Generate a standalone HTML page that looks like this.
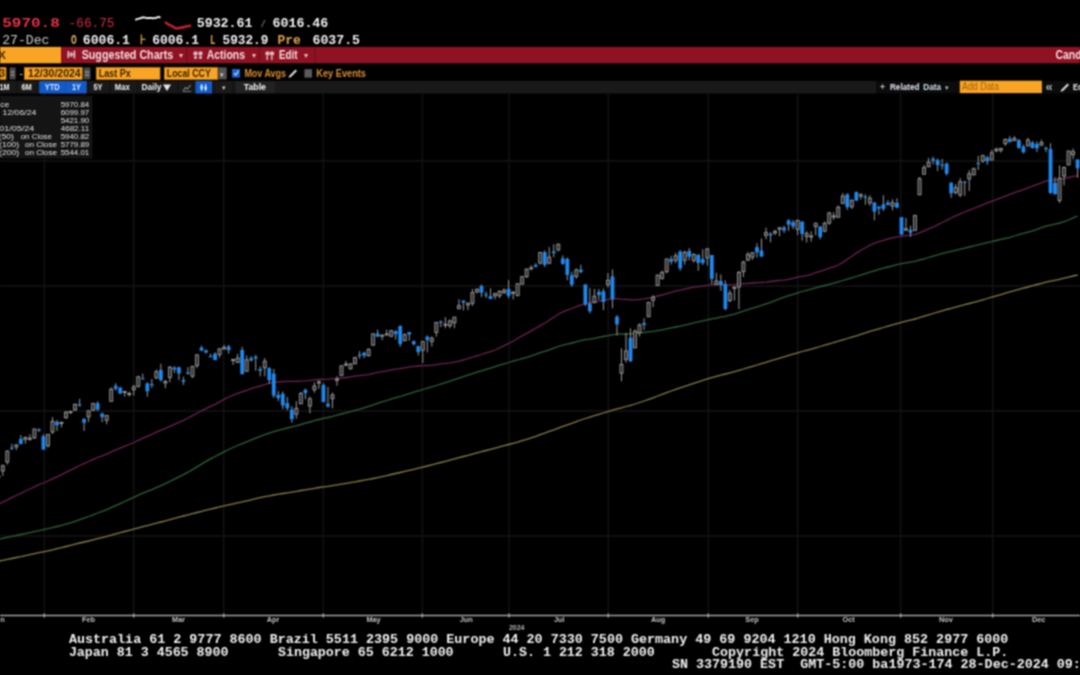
<!DOCTYPE html>
<html><head><meta charset="utf-8"><title>SPX Index - Candle Chart</title>
<style>
html,body{margin:0;padding:0;background:#000;width:1080px;height:675px;overflow:hidden}
svg{display:block} text{white-space:pre}
</style></head>
<body>
<svg width="1080" height="675" viewBox="0 0 1080 675" shape-rendering="auto">
<defs><filter id="soft" x="-2%" y="-2%" width="104%" height="104%" color-interpolation-filters="sRGB"><feConvolveMatrix order="3" kernelMatrix="0.2500 0.5000 0.2500 0.5000 1.0000 0.5000 0.2500 0.5000 0.2500" divisor="4.0000" edgeMode="none" preserveAlpha="false"/></filter></defs>
<rect width="1080" height="675" fill="#000"/>
<g filter="url(#soft)">
<g id="chart">
<line x1="44.30" y1="93.50" x2="44.30" y2="614.50" stroke="#151515" stroke-width="1.3" />
<line x1="133.70" y1="93.50" x2="133.70" y2="614.50" stroke="#151515" stroke-width="1.3" />
<line x1="223.70" y1="93.50" x2="223.70" y2="614.50" stroke="#151515" stroke-width="1.3" />
<line x1="323.30" y1="93.50" x2="323.30" y2="614.50" stroke="#151515" stroke-width="1.3" />
<line x1="422.30" y1="93.50" x2="422.30" y2="614.50" stroke="#151515" stroke-width="1.3" />
<line x1="509.00" y1="93.50" x2="509.00" y2="614.50" stroke="#151515" stroke-width="1.3" />
<line x1="608.30" y1="93.50" x2="608.30" y2="614.50" stroke="#151515" stroke-width="1.3" />
<line x1="708.30" y1="93.50" x2="708.30" y2="614.50" stroke="#151515" stroke-width="1.3" />
<line x1="797.70" y1="93.50" x2="797.70" y2="614.50" stroke="#151515" stroke-width="1.3" />
<line x1="900.70" y1="93.50" x2="900.70" y2="614.50" stroke="#151515" stroke-width="1.3" />
<line x1="992.70" y1="93.50" x2="992.70" y2="614.50" stroke="#151515" stroke-width="1.3" />
<line x1="0.00" y1="161.00" x2="1080.00" y2="161.00" stroke="#151515" stroke-width="1.3" />
<line x1="0.00" y1="286.00" x2="1080.00" y2="286.00" stroke="#151515" stroke-width="1.3" />
<line x1="0.00" y1="411.00" x2="1080.00" y2="411.00" stroke="#151515" stroke-width="1.3" />
<line x1="0.00" y1="536.00" x2="1080.00" y2="536.00" stroke="#151515" stroke-width="1.3" />
<line x1="0.00" y1="615.50" x2="1080.00" y2="615.50" stroke="#a0a0a0" stroke-width="1.3" />
<line x1="44.30" y1="613.50" x2="44.30" y2="617.50" stroke="#a8a8a8" stroke-width="1.4" />
<line x1="133.70" y1="613.50" x2="133.70" y2="617.50" stroke="#a8a8a8" stroke-width="1.4" />
<line x1="223.70" y1="613.50" x2="223.70" y2="617.50" stroke="#a8a8a8" stroke-width="1.4" />
<line x1="323.30" y1="613.50" x2="323.30" y2="617.50" stroke="#a8a8a8" stroke-width="1.4" />
<line x1="422.30" y1="613.50" x2="422.30" y2="617.50" stroke="#a8a8a8" stroke-width="1.4" />
<line x1="509.00" y1="613.50" x2="509.00" y2="617.50" stroke="#a8a8a8" stroke-width="1.4" />
<line x1="608.30" y1="613.50" x2="608.30" y2="617.50" stroke="#a8a8a8" stroke-width="1.4" />
<line x1="708.30" y1="613.50" x2="708.30" y2="617.50" stroke="#a8a8a8" stroke-width="1.4" />
<line x1="797.70" y1="613.50" x2="797.70" y2="617.50" stroke="#a8a8a8" stroke-width="1.4" />
<line x1="900.70" y1="613.50" x2="900.70" y2="617.50" stroke="#a8a8a8" stroke-width="1.4" />
<line x1="992.70" y1="613.50" x2="992.70" y2="617.50" stroke="#a8a8a8" stroke-width="1.4" />
<text x="88.60" y="622.20" font-family='"Liberation Sans", sans-serif' font-size="7.3" font-weight="bold" fill="#c4c4c4" text-anchor="middle" >Feb</text>
<text x="178.60" y="622.20" font-family='"Liberation Sans", sans-serif' font-size="7.3" font-weight="bold" fill="#c4c4c4" text-anchor="middle" >Mar</text>
<text x="273.00" y="622.20" font-family='"Liberation Sans", sans-serif' font-size="7.3" font-weight="bold" fill="#c4c4c4" text-anchor="middle" >Apr</text>
<text x="373.60" y="622.20" font-family='"Liberation Sans", sans-serif' font-size="7.3" font-weight="bold" fill="#c4c4c4" text-anchor="middle" >May</text>
<text x="466.30" y="622.20" font-family='"Liberation Sans", sans-serif' font-size="7.3" font-weight="bold" fill="#c4c4c4" text-anchor="middle" >Jun</text>
<text x="559.30" y="622.20" font-family='"Liberation Sans", sans-serif' font-size="7.3" font-weight="bold" fill="#c4c4c4" text-anchor="middle" >Jul</text>
<text x="658.00" y="622.20" font-family='"Liberation Sans", sans-serif' font-size="7.3" font-weight="bold" fill="#c4c4c4" text-anchor="middle" >Aug</text>
<text x="752.00" y="622.20" font-family='"Liberation Sans", sans-serif' font-size="7.3" font-weight="bold" fill="#c4c4c4" text-anchor="middle" >Sep</text>
<text x="848.60" y="622.20" font-family='"Liberation Sans", sans-serif' font-size="7.3" font-weight="bold" fill="#c4c4c4" text-anchor="middle" >Oct</text>
<text x="946.00" y="622.20" font-family='"Liberation Sans", sans-serif' font-size="7.3" font-weight="bold" fill="#c4c4c4" text-anchor="middle" >Nov</text>
<text x="1038.60" y="622.20" font-family='"Liberation Sans", sans-serif' font-size="7.3" font-weight="bold" fill="#c4c4c4" text-anchor="middle" >Dec</text>
<text x="0.30" y="622.20" font-family='"Liberation Sans", sans-serif' font-size="7.3" font-weight="bold" fill="#c4c4c4" >n</text>
<text x="516.70" y="630.30" font-family='"Liberation Sans", sans-serif' font-size="7" font-weight="bold" fill="#b4b4b4" text-anchor="middle" >2024</text>
<polyline points="-1.7,561.1 2.8,560.3 7.3,559.4 11.8,558.5 16.3,557.5 20.9,556.6 25.4,555.6 29.9,554.7 34.4,553.7 38.9,552.7 43.4,551.8 48.0,550.8 52.5,549.8 57.0,548.7 61.5,547.7 66.0,546.5 70.5,545.4 75.1,544.2 79.6,543.0 84.1,542.0 88.6,541.0 93.1,539.8 97.6,538.7 102.2,537.6 106.7,536.4 111.2,535.2 115.7,533.9 120.2,532.7 124.7,531.5 129.2,530.3 133.8,529.1 138.3,527.9 142.8,526.7 147.3,525.6 151.8,524.4 156.3,523.2 160.9,522.0 165.4,520.9 169.9,519.6 174.4,518.4 178.9,517.2 183.4,516.0 188.0,514.8 192.5,513.6 197.0,512.5 201.5,511.3 206.0,510.2 210.5,509.1 215.1,508.0 219.6,506.9 224.1,505.8 228.6,504.8 233.1,503.8 237.6,502.8 242.1,501.9 246.7,500.8 251.2,499.8 255.7,498.7 260.2,497.7 264.7,496.7 269.2,495.8 273.8,495.0 278.3,494.2 282.8,493.5 287.3,492.8 291.8,492.1 296.3,491.4 300.9,490.5 305.4,489.8 309.9,489.1 314.4,488.3 318.9,487.5 323.4,486.8 327.9,486.3 332.5,485.6 337.0,484.9 341.5,484.1 346.0,483.4 350.5,482.6 355.0,481.8 359.6,481.0 364.1,480.2 368.6,479.4 373.1,478.5 377.6,477.6 382.1,476.6 386.7,475.6 391.2,474.5 395.7,473.5 400.2,472.5 404.7,471.4 409.2,470.3 413.8,469.3 418.3,468.2 422.8,467.1 427.3,466.0 431.8,464.9 436.3,463.7 440.8,462.5 445.4,461.3 449.9,460.1 454.4,458.9 458.9,457.7 463.4,456.5 467.9,455.3 472.5,454.1 477.0,452.9 481.5,451.7 486.0,450.5 490.5,449.3 495.0,448.2 499.6,446.9 504.1,445.7 508.6,444.5 513.1,443.3 517.6,442.1 522.1,440.7 526.7,439.3 531.2,437.8 535.7,436.3 540.2,434.6 544.7,433.1 549.2,431.4 553.8,429.8 558.3,428.1 562.8,426.4 567.3,424.9 571.8,423.3 576.3,421.6 580.8,420.0 585.4,418.5 589.9,417.1 594.4,415.7 598.9,414.4 603.4,413.0 607.9,411.6 612.5,410.2 617.0,408.9 621.5,407.8 626.0,406.5 630.5,405.3 635.0,404.0 639.6,402.5 644.1,401.0 648.6,399.4 653.1,397.8 657.6,396.0 662.1,394.3 666.7,392.6 671.2,391.0 675.7,389.4 680.2,387.8 684.7,386.3 689.2,384.8 693.7,383.3 698.3,381.8 702.8,380.4 707.3,378.9 711.8,377.7 716.3,376.4 720.8,375.1 725.4,374.0 729.9,372.8 734.4,371.6 738.9,370.3 743.4,369.0 747.9,367.7 752.5,366.3 757.0,365.0 761.5,363.7 766.0,362.3 770.5,360.9 775.0,359.5 779.6,358.2 784.1,356.8 788.6,355.4 793.1,354.1 797.6,352.8 802.1,351.5 806.6,350.3 811.2,349.1 815.7,347.8 820.2,346.5 824.7,345.2 829.2,343.9 833.7,342.5 838.3,341.2 842.8,339.8 847.3,338.5 851.8,337.1 856.3,335.8 860.8,334.3 865.4,332.9 869.9,331.4 874.4,330.1 878.9,328.8 883.4,327.5 887.9,326.2 892.5,324.9 897.0,323.6 901.5,322.4 906.0,321.2 910.5,320.1 915.0,319.0 919.5,317.6 924.1,316.2 928.6,314.9 933.1,313.5 937.6,312.2 942.1,310.8 946.6,309.5 951.2,308.3 955.7,307.1 960.2,305.9 964.7,304.7 969.2,303.5 973.7,302.3 978.3,301.1 982.8,299.8 987.3,298.5 991.8,297.2 996.3,295.9 1000.8,294.6 1005.4,293.2 1009.9,291.9 1014.4,290.6 1018.9,289.4 1023.4,288.2 1027.9,287.0 1032.4,285.7 1037.0,284.5 1041.5,283.4 1046.0,282.2 1050.5,281.2 1055.0,280.3 1059.5,279.3 1064.1,278.2 1068.6,277.1 1073.1,276.0 1077.6,275.0" fill="none" stroke="#837c46" stroke-width="1.3"/>
<polyline points="-1.7,539.2 2.8,538.3 7.3,537.3 11.8,536.4 16.3,535.5 20.9,534.5 25.4,533.6 29.9,532.6 34.4,531.6 38.9,530.6 43.4,529.7 48.0,528.7 52.5,527.6 57.0,526.5 61.5,525.4 66.0,524.2 70.5,522.9 75.1,521.3 79.6,519.7 84.1,518.2 88.6,516.5 93.1,514.8 97.6,513.0 102.2,511.4 106.7,509.6 111.2,507.7 115.7,505.7 120.2,503.6 124.7,501.5 129.2,499.4 133.8,497.3 138.3,495.2 142.8,493.2 147.3,491.4 151.8,489.6 156.3,487.6 160.9,485.7 165.4,483.6 169.9,481.4 174.4,479.1 178.9,476.8 183.4,474.6 188.0,472.2 192.5,469.6 197.0,466.9 201.5,464.1 206.0,461.4 210.5,458.9 215.1,456.5 219.6,454.1 224.1,451.8 228.6,449.5 233.1,447.5 237.6,445.5 242.1,443.7 246.7,441.8 251.2,439.9 255.7,438.1 260.2,436.4 264.7,434.7 269.2,433.1 273.8,431.7 278.3,430.4 282.8,429.2 287.3,428.0 291.8,426.9 296.3,425.8 300.9,424.5 305.4,423.2 309.9,422.0 314.4,420.7 318.9,419.5 323.4,418.4 327.9,417.5 332.5,416.4 337.0,415.2 341.5,414.0 346.0,412.8 350.5,411.6 355.0,410.3 359.6,409.1 364.1,407.8 368.6,406.4 373.1,404.9 377.6,403.4 382.1,401.9 386.7,400.5 391.2,399.1 395.7,397.7 400.2,396.5 404.7,395.1 409.2,393.6 413.8,392.1 418.3,390.8 422.8,389.5 427.3,388.2 431.8,386.9 436.3,385.5 440.8,384.1 445.4,382.6 449.9,381.1 454.4,379.6 458.9,378.1 463.4,376.7 467.9,375.2 472.5,373.7 477.0,372.2 481.5,370.8 486.0,369.4 490.5,368.1 495.0,366.6 499.6,365.2 504.1,363.8 508.6,362.5 513.1,361.2 517.6,360.0 522.1,358.6 526.7,357.3 531.2,355.9 535.7,354.3 540.2,352.7 544.7,351.4 549.2,349.8 553.8,348.2 558.3,346.5 562.8,345.2 567.3,344.1 571.8,343.0 576.3,341.8 580.8,340.6 585.4,339.7 589.9,339.1 594.4,338.3 598.9,337.3 603.4,336.5 607.9,335.6 612.5,334.8 617.0,334.2 621.5,334.2 626.0,334.0 630.5,333.8 635.0,333.3 639.6,332.9 644.1,332.4 648.6,331.9 653.1,331.4 657.6,330.6 662.1,329.8 666.7,328.8 671.2,327.9 675.7,327.0 680.2,326.1 684.7,325.1 689.2,324.1 693.7,322.9 698.3,321.9 702.8,320.9 707.3,319.8 711.8,318.9 716.3,318.1 720.8,317.2 725.4,316.3 729.9,315.2 734.4,314.1 738.9,312.7 743.4,311.1 747.9,309.6 752.5,308.2 757.0,306.8 761.5,305.3 766.0,303.8 770.5,302.3 775.0,300.6 779.6,298.9 784.1,297.2 788.6,295.7 793.1,294.3 797.6,292.8 802.1,291.5 806.6,290.3 811.2,289.1 815.7,287.8 820.2,286.7 824.7,285.5 829.2,284.3 833.7,283.1 838.3,281.8 842.8,280.5 847.3,279.2 851.8,277.8 856.3,276.5 860.8,275.1 865.4,273.6 869.9,272.1 874.4,270.8 878.9,269.4 883.4,268.1 887.9,267.0 892.5,265.8 897.0,264.6 901.5,263.7 906.0,262.9 910.5,262.1 915.0,261.3 919.5,260.0 924.1,258.8 928.6,257.5 933.1,256.2 937.6,254.9 942.1,253.5 946.6,252.3 951.2,251.3 955.7,250.3 960.2,249.2 964.7,248.1 969.2,247.0 973.7,245.9 978.3,244.8 982.8,243.7 987.3,242.7 991.8,241.7 996.3,240.5 1000.8,239.4 1005.4,238.3 1009.9,237.3 1014.4,236.0 1018.9,234.7 1023.4,233.4 1027.9,232.1 1032.4,230.9 1037.0,229.3 1041.5,227.6 1046.0,226.2 1050.5,225.1 1055.0,224.1 1059.5,223.0 1064.1,221.7 1068.6,220.0 1073.1,217.9 1077.6,216.0" fill="none" stroke="#2c6238" stroke-width="1.3"/>
<polyline points="-1.7,504.2 2.8,502.1 7.3,499.9 11.8,497.7 16.3,495.5 20.9,493.3 25.4,491.0 29.9,489.0 34.4,486.8 38.9,484.7 43.4,483.0 48.0,481.0 52.5,478.8 57.0,476.8 61.5,474.7 66.0,472.4 70.5,470.2 75.1,467.8 79.6,465.5 84.1,463.6 88.6,461.5 93.1,459.4 97.6,457.5 102.2,455.8 106.7,454.1 111.2,451.9 115.7,449.9 120.2,448.1 124.7,446.2 129.2,444.5 133.8,442.5 138.3,440.4 142.8,438.2 147.3,436.3 151.8,434.3 156.3,432.1 160.9,430.2 165.4,428.4 169.9,426.4 174.4,424.4 178.9,422.3 183.4,420.3 188.0,418.0 192.5,415.6 197.0,413.3 201.5,410.8 206.0,408.6 210.5,406.4 215.1,404.3 219.6,401.9 224.1,399.3 228.6,397.0 233.1,395.2 237.6,393.4 242.1,391.9 246.7,390.3 251.2,388.7 255.7,387.1 260.2,386.0 264.7,384.6 269.2,383.2 273.8,382.4 278.3,382.0 282.8,381.6 287.3,381.3 291.8,381.4 296.3,381.4 300.9,381.1 305.4,380.9 309.9,380.4 314.4,379.9 318.9,379.5 323.4,379.3 327.9,379.1 332.5,378.7 337.0,378.5 341.5,378.0 346.0,377.5 350.5,376.9 355.0,376.2 359.6,375.6 364.1,375.1 368.6,374.6 373.1,373.4 377.6,372.4 382.1,371.7 386.7,370.8 391.2,369.8 395.7,369.1 400.2,368.6 404.7,367.8 409.2,366.9 413.8,366.3 418.3,366.0 422.8,365.7 427.3,365.5 431.8,365.3 436.3,364.6 440.8,363.8 445.4,363.3 449.9,362.8 454.4,362.1 458.9,361.1 463.4,360.0 467.9,358.5 472.5,357.2 477.0,355.8 481.5,354.5 486.0,352.9 490.5,351.7 495.0,350.0 499.6,347.9 504.1,345.7 508.6,343.5 513.1,341.2 517.6,338.5 522.1,335.9 526.7,333.4 531.2,330.9 535.7,328.2 540.2,325.6 544.7,323.2 549.2,320.3 553.8,317.3 558.3,314.2 562.8,311.9 567.3,310.1 571.8,308.5 576.3,306.7 580.8,304.9 585.4,303.9 589.9,303.0 594.4,302.0 598.9,301.2 603.4,300.5 607.9,299.4 612.5,298.7 617.0,298.6 621.5,299.2 626.0,299.3 630.5,299.9 635.0,299.8 639.6,299.4 644.1,298.9 648.6,298.1 653.1,297.2 657.6,296.0 662.1,295.0 666.7,293.7 671.2,292.4 675.7,291.1 680.2,290.2 684.7,289.1 689.2,288.2 693.7,287.2 698.3,286.6 702.8,286.1 707.3,285.2 711.8,284.9 716.3,284.5 720.8,284.3 725.4,284.7 729.9,284.8 734.4,284.6 738.9,284.2 743.4,283.7 747.9,283.3 752.5,283.0 757.0,282.7 761.5,282.5 766.0,282.1 770.5,281.5 775.0,281.0 779.6,280.4 784.1,280.2 788.6,279.4 793.1,278.4 797.6,277.1 802.1,276.4 806.6,275.6 811.2,274.3 815.7,272.5 820.2,271.3 824.7,269.9 829.2,268.1 833.7,266.8 838.3,265.0 842.8,262.4 847.3,259.3 851.8,256.3 856.3,253.1 860.8,250.3 865.4,247.8 869.9,245.2 874.4,243.4 878.9,241.7 883.4,240.3 887.9,239.0 892.5,237.9 897.0,236.8 901.5,236.4 906.0,235.6 910.5,235.2 915.0,234.3 919.5,232.8 924.1,230.9 928.6,228.9 933.1,227.1 937.6,224.9 942.1,222.5 946.6,220.3 951.2,218.0 955.7,215.9 960.2,213.8 964.7,212.0 969.2,210.2 973.7,208.5 978.3,206.7 982.8,204.8 987.3,202.9 991.8,201.3 996.3,199.6 1000.8,197.9 1005.4,196.1 1009.9,194.4 1014.4,192.6 1018.9,191.1 1023.4,189.7 1027.9,187.8 1032.4,186.1 1037.0,184.4 1041.5,182.8 1046.0,181.0 1050.5,180.4 1055.0,180.0 1059.5,179.2 1064.1,178.4 1068.6,177.5 1073.1,176.4 1077.6,175.8" fill="none" stroke="#6c2250" stroke-width="1.3"/>
<line x1="-1.72" y1="474.94" x2="-1.72" y2="482.30" stroke="#9a9a9a" stroke-width="1" />
<rect x="-3.22" y="476.20" width="3" height="1.00" fill="#2e2e2e" stroke="#9a9a9a" stroke-width="0.9"/>
<line x1="2.80" y1="464.55" x2="2.80" y2="475.86" stroke="#9a9a9a" stroke-width="1" />
<rect x="1.30" y="465.77" width="3" height="5.21" fill="#2e2e2e" stroke="#9a9a9a" stroke-width="0.9"/>
<line x1="7.31" y1="450.48" x2="7.31" y2="464.53" stroke="#9a9a9a" stroke-width="1" />
<rect x="5.81" y="451.05" width="3" height="10.88" fill="#2e2e2e" stroke="#9a9a9a" stroke-width="0.9"/>
<line x1="11.83" y1="443.90" x2="11.83" y2="449.99" stroke="#9a9a9a" stroke-width="1" />
<rect x="9.93" y="447.64" width="3.80" height="1.20" fill="#1e88f0" />
<line x1="16.35" y1="444.38" x2="16.35" y2="449.91" stroke="#9a9a9a" stroke-width="1" />
<rect x="14.85" y="444.85" width="3" height="1.95" fill="#2e2e2e" stroke="#9a9a9a" stroke-width="0.9"/>
<line x1="20.86" y1="435.08" x2="20.86" y2="444.52" stroke="#9a9a9a" stroke-width="1" />
<rect x="18.96" y="438.86" width="3.80" height="5.00" fill="#1e88f0" />
<line x1="25.38" y1="436.46" x2="25.38" y2="443.66" stroke="#9a9a9a" stroke-width="1" />
<rect x="23.88" y="437.46" width="3" height="1.88" fill="#2e2e2e" stroke="#9a9a9a" stroke-width="0.9"/>
<line x1="29.89" y1="434.33" x2="29.89" y2="440.63" stroke="#9a9a9a" stroke-width="1" />
<rect x="28.39" y="438.26" width="3" height="1.00" fill="#2e2e2e" stroke="#9a9a9a" stroke-width="0.9"/>
<line x1="34.41" y1="428.67" x2="34.41" y2="439.15" stroke="#9a9a9a" stroke-width="1" />
<rect x="32.91" y="429.02" width="3" height="8.75" fill="#2e2e2e" stroke="#9a9a9a" stroke-width="0.9"/>
<line x1="38.93" y1="428.23" x2="38.93" y2="431.93" stroke="#9a9a9a" stroke-width="1" />
<rect x="37.03" y="429.53" width="3.80" height="1.20" fill="#1e88f0" />
<line x1="43.44" y1="434.31" x2="43.44" y2="449.71" stroke="#9a9a9a" stroke-width="1" />
<rect x="41.54" y="436.20" width="3.80" height="13.38" fill="#1e88f0" />
<line x1="47.96" y1="434.26" x2="47.96" y2="447.62" stroke="#9a9a9a" stroke-width="1" />
<rect x="46.46" y="434.45" width="3" height="11.27" fill="#2e2e2e" stroke="#9a9a9a" stroke-width="0.9"/>
<line x1="52.47" y1="417.18" x2="52.47" y2="434.00" stroke="#9a9a9a" stroke-width="1" />
<rect x="50.97" y="421.35" width="3" height="10.64" fill="#2e2e2e" stroke="#9a9a9a" stroke-width="0.9"/>
<line x1="56.99" y1="420.14" x2="56.99" y2="430.94" stroke="#9a9a9a" stroke-width="1" />
<rect x="55.09" y="421.70" width="3.80" height="3.59" fill="#1e88f0" />
<line x1="61.51" y1="421.56" x2="61.51" y2="427.28" stroke="#9a9a9a" stroke-width="1" />
<rect x="60.01" y="422.44" width="3" height="1.02" fill="#2e2e2e" stroke="#9a9a9a" stroke-width="0.9"/>
<line x1="66.02" y1="411.03" x2="66.02" y2="418.74" stroke="#9a9a9a" stroke-width="1" />
<rect x="64.52" y="412.23" width="3" height="5.50" fill="#2e2e2e" stroke="#9a9a9a" stroke-width="0.9"/>
<line x1="70.54" y1="410.90" x2="70.54" y2="414.23" stroke="#9a9a9a" stroke-width="1" />
<rect x="69.04" y="411.52" width="3" height="1.00" fill="#2e2e2e" stroke="#9a9a9a" stroke-width="0.9"/>
<line x1="75.05" y1="403.48" x2="75.05" y2="410.91" stroke="#9a9a9a" stroke-width="1" />
<rect x="73.55" y="404.35" width="3" height="5.61" fill="#2e2e2e" stroke="#9a9a9a" stroke-width="0.9"/>
<line x1="79.57" y1="398.90" x2="79.57" y2="406.79" stroke="#9a9a9a" stroke-width="1" />
<rect x="77.67" y="404.29" width="3.80" height="1.25" fill="#1e88f0" />
<line x1="84.09" y1="418.17" x2="84.09" y2="430.92" stroke="#9a9a9a" stroke-width="1" />
<rect x="82.19" y="419.02" width="3.80" height="3.69" fill="#1e88f0" />
<line x1="88.60" y1="410.37" x2="88.60" y2="421.89" stroke="#9a9a9a" stroke-width="1" />
<rect x="87.10" y="410.85" width="3" height="6.05" fill="#2e2e2e" stroke="#9a9a9a" stroke-width="0.9"/>
<line x1="93.12" y1="402.82" x2="93.12" y2="411.14" stroke="#9a9a9a" stroke-width="1" />
<rect x="91.62" y="403.57" width="3" height="6.65" fill="#2e2e2e" stroke="#9a9a9a" stroke-width="0.9"/>
<line x1="97.63" y1="401.33" x2="97.63" y2="411.12" stroke="#9a9a9a" stroke-width="1" />
<rect x="95.73" y="403.22" width="3.80" height="6.39" fill="#1e88f0" />
<line x1="102.15" y1="412.57" x2="102.15" y2="422.24" stroke="#9a9a9a" stroke-width="1" />
<rect x="100.25" y="413.67" width="3.80" height="3.45" fill="#1e88f0" />
<line x1="106.67" y1="415.20" x2="106.67" y2="424.31" stroke="#9a9a9a" stroke-width="1" />
<rect x="105.17" y="415.55" width="3" height="4.69" fill="#2e2e2e" stroke="#9a9a9a" stroke-width="0.9"/>
<line x1="111.18" y1="387.40" x2="111.18" y2="401.29" stroke="#9a9a9a" stroke-width="1" />
<rect x="109.68" y="389.24" width="3" height="12.05" fill="#2e2e2e" stroke="#9a9a9a" stroke-width="0.9"/>
<line x1="115.70" y1="383.23" x2="115.70" y2="390.63" stroke="#9a9a9a" stroke-width="1" />
<rect x="113.80" y="385.77" width="3.80" height="3.03" fill="#1e88f0" />
<line x1="120.21" y1="386.59" x2="120.21" y2="393.77" stroke="#9a9a9a" stroke-width="1" />
<rect x="118.31" y="387.75" width="3.80" height="5.87" fill="#1e88f0" />
<line x1="124.73" y1="390.83" x2="124.73" y2="396.68" stroke="#9a9a9a" stroke-width="1" />
<rect x="123.23" y="391.45" width="3" height="1.00" fill="#2e2e2e" stroke="#9a9a9a" stroke-width="0.9"/>
<line x1="129.25" y1="391.66" x2="129.25" y2="396.41" stroke="#9a9a9a" stroke-width="1" />
<rect x="127.75" y="393.56" width="3" height="1.00" fill="#2e2e2e" stroke="#9a9a9a" stroke-width="0.9"/>
<line x1="133.76" y1="384.75" x2="133.76" y2="395.53" stroke="#9a9a9a" stroke-width="1" />
<rect x="132.26" y="386.93" width="3" height="2.73" fill="#2e2e2e" stroke="#9a9a9a" stroke-width="0.9"/>
<line x1="138.28" y1="375.92" x2="138.28" y2="387.46" stroke="#9a9a9a" stroke-width="1" />
<rect x="136.78" y="376.73" width="3" height="9.64" fill="#2e2e2e" stroke="#9a9a9a" stroke-width="0.9"/>
<line x1="142.79" y1="373.58" x2="142.79" y2="379.20" stroke="#9a9a9a" stroke-width="1" />
<rect x="140.89" y="378.25" width="3.80" height="1.20" fill="#1e88f0" />
<line x1="147.31" y1="382.37" x2="147.31" y2="396.80" stroke="#9a9a9a" stroke-width="1" />
<rect x="145.41" y="383.37" width="3.80" height="7.97" fill="#1e88f0" />
<line x1="151.83" y1="379.01" x2="151.83" y2="387.94" stroke="#9a9a9a" stroke-width="1" />
<rect x="149.93" y="383.99" width="3.80" height="1.20" fill="#1e88f0" />
<line x1="156.34" y1="369.60" x2="156.34" y2="378.95" stroke="#9a9a9a" stroke-width="1" />
<rect x="154.84" y="371.66" width="3" height="6.24" fill="#2e2e2e" stroke="#9a9a9a" stroke-width="0.9"/>
<line x1="160.86" y1="363.68" x2="160.86" y2="381.62" stroke="#9a9a9a" stroke-width="1" />
<rect x="158.96" y="369.88" width="3.80" height="10.19" fill="#1e88f0" />
<line x1="165.37" y1="379.84" x2="165.37" y2="388.21" stroke="#9a9a9a" stroke-width="1" />
<rect x="163.87" y="381.52" width="3" height="1.49" fill="#2e2e2e" stroke="#9a9a9a" stroke-width="0.9"/>
<line x1="169.89" y1="366.03" x2="169.89" y2="382.38" stroke="#9a9a9a" stroke-width="1" />
<rect x="168.39" y="367.18" width="3" height="10.24" fill="#2e2e2e" stroke="#9a9a9a" stroke-width="0.9"/>
<line x1="174.41" y1="366.21" x2="174.41" y2="373.03" stroke="#9a9a9a" stroke-width="1" />
<rect x="172.51" y="367.63" width="3.80" height="2.04" fill="#1e88f0" />
<line x1="178.92" y1="366.79" x2="178.92" y2="380.17" stroke="#9a9a9a" stroke-width="1" />
<rect x="177.02" y="367.21" width="3.80" height="6.17" fill="#1e88f0" />
<line x1="183.44" y1="376.79" x2="183.44" y2="384.91" stroke="#9a9a9a" stroke-width="1" />
<rect x="181.54" y="380.17" width="3.80" height="1.56" fill="#1e88f0" />
<line x1="187.95" y1="367.10" x2="187.95" y2="374.63" stroke="#9a9a9a" stroke-width="1" />
<rect x="186.05" y="372.31" width="3.80" height="1.34" fill="#1e88f0" />
<line x1="192.47" y1="365.92" x2="192.47" y2="378.10" stroke="#9a9a9a" stroke-width="1" />
<rect x="190.97" y="366.37" width="3" height="9.86" fill="#2e2e2e" stroke="#9a9a9a" stroke-width="0.9"/>
<line x1="196.99" y1="354.45" x2="196.99" y2="368.11" stroke="#9a9a9a" stroke-width="1" />
<rect x="195.49" y="354.85" width="3" height="10.73" fill="#2e2e2e" stroke="#9a9a9a" stroke-width="0.9"/>
<line x1="201.50" y1="345.72" x2="201.50" y2="350.84" stroke="#9a9a9a" stroke-width="1" />
<rect x="199.60" y="347.64" width="3.80" height="2.98" fill="#1e88f0" />
<line x1="206.02" y1="349.48" x2="206.02" y2="353.53" stroke="#9a9a9a" stroke-width="1" />
<rect x="204.12" y="350.38" width="3.80" height="2.07" fill="#1e88f0" />
<line x1="210.53" y1="353.73" x2="210.53" y2="356.98" stroke="#9a9a9a" stroke-width="1" />
<rect x="208.63" y="356.12" width="3.80" height="1.20" fill="#1e88f0" />
<line x1="215.05" y1="352.21" x2="215.05" y2="360.14" stroke="#9a9a9a" stroke-width="1" />
<rect x="213.15" y="353.79" width="3.80" height="6.32" fill="#1e88f0" />
<line x1="219.57" y1="348.68" x2="219.57" y2="357.52" stroke="#9a9a9a" stroke-width="1" />
<rect x="218.07" y="348.88" width="3" height="5.54" fill="#2e2e2e" stroke="#9a9a9a" stroke-width="0.9"/>
<line x1="224.08" y1="344.79" x2="224.08" y2="349.55" stroke="#9a9a9a" stroke-width="1" />
<rect x="222.58" y="347.41" width="3" height="1.58" fill="#2e2e2e" stroke="#9a9a9a" stroke-width="0.9"/>
<line x1="228.60" y1="345.01" x2="228.60" y2="353.70" stroke="#9a9a9a" stroke-width="1" />
<rect x="226.70" y="346.51" width="3.80" height="3.55" fill="#1e88f0" />
<line x1="233.11" y1="358.91" x2="233.11" y2="364.99" stroke="#9a9a9a" stroke-width="1" />
<rect x="231.61" y="359.55" width="3" height="1.00" fill="#2e2e2e" stroke="#9a9a9a" stroke-width="0.9"/>
<line x1="237.63" y1="353.81" x2="237.63" y2="362.41" stroke="#9a9a9a" stroke-width="1" />
<rect x="236.13" y="358.13" width="3" height="4.28" fill="#2e2e2e" stroke="#9a9a9a" stroke-width="0.9"/>
<line x1="242.15" y1="346.85" x2="242.15" y2="374.48" stroke="#9a9a9a" stroke-width="1" />
<rect x="240.25" y="349.99" width="3.80" height="24.21" fill="#1e88f0" />
<line x1="246.66" y1="355.45" x2="246.66" y2="371.70" stroke="#9a9a9a" stroke-width="1" />
<rect x="245.16" y="359.91" width="3" height="11.35" fill="#2e2e2e" stroke="#9a9a9a" stroke-width="0.9"/>
<line x1="251.18" y1="356.11" x2="251.18" y2="361.66" stroke="#9a9a9a" stroke-width="1" />
<rect x="249.28" y="358.16" width="3.80" height="2.24" fill="#1e88f0" />
<line x1="255.69" y1="354.80" x2="255.69" y2="370.81" stroke="#9a9a9a" stroke-width="1" />
<rect x="253.79" y="356.74" width="3.80" height="1.78" fill="#1e88f0" />
<line x1="260.21" y1="366.39" x2="260.21" y2="376.33" stroke="#9a9a9a" stroke-width="1" />
<rect x="258.31" y="369.03" width="3.80" height="1.81" fill="#1e88f0" />
<line x1="264.73" y1="358.06" x2="264.73" y2="376.31" stroke="#9a9a9a" stroke-width="1" />
<rect x="263.23" y="361.23" width="3" height="6.53" fill="#2e2e2e" stroke="#9a9a9a" stroke-width="0.9"/>
<line x1="269.24" y1="367.24" x2="269.24" y2="384.02" stroke="#9a9a9a" stroke-width="1" />
<rect x="267.34" y="368.12" width="3.80" height="12.03" fill="#1e88f0" />
<line x1="273.76" y1="368.89" x2="273.76" y2="397.88" stroke="#9a9a9a" stroke-width="1" />
<rect x="271.86" y="373.58" width="3.80" height="21.96" fill="#1e88f0" />
<line x1="278.27" y1="391.04" x2="278.27" y2="401.04" stroke="#9a9a9a" stroke-width="1" />
<rect x="276.37" y="394.85" width="3.80" height="3.30" fill="#1e88f0" />
<line x1="282.79" y1="391.51" x2="282.79" y2="409.19" stroke="#9a9a9a" stroke-width="1" />
<rect x="280.89" y="393.76" width="3.80" height="11.69" fill="#1e88f0" />
<line x1="287.31" y1="396.84" x2="287.31" y2="410.53" stroke="#9a9a9a" stroke-width="1" />
<rect x="285.41" y="403.12" width="3.80" height="5.10" fill="#1e88f0" />
<line x1="291.82" y1="406.24" x2="291.82" y2="422.61" stroke="#9a9a9a" stroke-width="1" />
<rect x="289.92" y="409.64" width="3.80" height="9.55" fill="#1e88f0" />
<line x1="296.34" y1="401.29" x2="296.34" y2="418.65" stroke="#9a9a9a" stroke-width="1" />
<rect x="294.84" y="408.35" width="3" height="5.82" fill="#2e2e2e" stroke="#9a9a9a" stroke-width="0.9"/>
<line x1="300.85" y1="391.97" x2="300.85" y2="404.01" stroke="#9a9a9a" stroke-width="1" />
<rect x="299.35" y="393.36" width="3" height="10.42" fill="#2e2e2e" stroke="#9a9a9a" stroke-width="0.9"/>
<line x1="305.37" y1="388.63" x2="305.37" y2="399.24" stroke="#9a9a9a" stroke-width="1" />
<rect x="303.47" y="389.84" width="3.80" height="3.25" fill="#1e88f0" />
<line x1="309.89" y1="396.56" x2="309.89" y2="413.36" stroke="#9a9a9a" stroke-width="1" />
<rect x="308.39" y="398.89" width="3" height="7.13" fill="#2e2e2e" stroke="#9a9a9a" stroke-width="0.9"/>
<line x1="314.40" y1="382.35" x2="314.40" y2="392.71" stroke="#9a9a9a" stroke-width="1" />
<rect x="312.90" y="386.01" width="3" height="3.83" fill="#2e2e2e" stroke="#9a9a9a" stroke-width="0.9"/>
<line x1="318.92" y1="380.13" x2="318.92" y2="388.84" stroke="#9a9a9a" stroke-width="1" />
<rect x="317.42" y="381.96" width="3" height="1.00" fill="#2e2e2e" stroke="#9a9a9a" stroke-width="0.9"/>
<line x1="323.43" y1="383.29" x2="323.43" y2="402.17" stroke="#9a9a9a" stroke-width="1" />
<rect x="321.53" y="385.06" width="3.80" height="17.02" fill="#1e88f0" />
<line x1="327.95" y1="386.97" x2="327.95" y2="407.64" stroke="#9a9a9a" stroke-width="1" />
<rect x="326.05" y="403.74" width="3.80" height="2.66" fill="#1e88f0" />
<line x1="332.47" y1="392.70" x2="332.47" y2="408.24" stroke="#9a9a9a" stroke-width="1" />
<rect x="330.97" y="394.95" width="3" height="3.72" fill="#2e2e2e" stroke="#9a9a9a" stroke-width="0.9"/>
<line x1="336.98" y1="376.22" x2="336.98" y2="385.69" stroke="#9a9a9a" stroke-width="1" />
<rect x="335.48" y="379.05" width="3" height="1.25" fill="#2e2e2e" stroke="#9a9a9a" stroke-width="0.9"/>
<line x1="341.50" y1="365.75" x2="341.50" y2="375.39" stroke="#9a9a9a" stroke-width="1" />
<rect x="340.00" y="365.82" width="3" height="9.58" fill="#2e2e2e" stroke="#9a9a9a" stroke-width="0.9"/>
<line x1="346.01" y1="360.94" x2="346.01" y2="366.26" stroke="#9a9a9a" stroke-width="1" />
<rect x="344.51" y="364.08" width="3" height="1.00" fill="#2e2e2e" stroke="#9a9a9a" stroke-width="0.9"/>
<line x1="350.53" y1="363.01" x2="350.53" y2="369.54" stroke="#9a9a9a" stroke-width="1" />
<rect x="349.03" y="364.08" width="3" height="4.67" fill="#2e2e2e" stroke="#9a9a9a" stroke-width="0.9"/>
<line x1="355.05" y1="357.37" x2="355.05" y2="364.21" stroke="#9a9a9a" stroke-width="1" />
<rect x="353.55" y="357.48" width="3" height="6.26" fill="#2e2e2e" stroke="#9a9a9a" stroke-width="0.9"/>
<line x1="359.56" y1="351.09" x2="359.56" y2="358.58" stroke="#9a9a9a" stroke-width="1" />
<rect x="357.66" y="354.63" width="3.80" height="1.20" fill="#1e88f0" />
<line x1="364.08" y1="351.68" x2="364.08" y2="358.21" stroke="#9a9a9a" stroke-width="1" />
<rect x="362.18" y="352.73" width="3.80" height="2.91" fill="#1e88f0" />
<line x1="368.59" y1="348.41" x2="368.59" y2="356.51" stroke="#9a9a9a" stroke-width="1" />
<rect x="367.09" y="349.33" width="3" height="6.39" fill="#2e2e2e" stroke="#9a9a9a" stroke-width="0.9"/>
<line x1="373.11" y1="333.06" x2="373.11" y2="345.18" stroke="#9a9a9a" stroke-width="1" />
<rect x="371.61" y="333.96" width="3" height="11.22" fill="#2e2e2e" stroke="#9a9a9a" stroke-width="0.9"/>
<line x1="377.63" y1="329.63" x2="377.63" y2="336.95" stroke="#9a9a9a" stroke-width="1" />
<rect x="375.73" y="333.48" width="3.80" height="3.24" fill="#1e88f0" />
<line x1="382.14" y1="334.64" x2="382.14" y2="340.10" stroke="#9a9a9a" stroke-width="1" />
<rect x="380.64" y="335.18" width="3" height="1.00" fill="#2e2e2e" stroke="#9a9a9a" stroke-width="0.9"/>
<line x1="386.66" y1="329.67" x2="386.66" y2="335.40" stroke="#9a9a9a" stroke-width="1" />
<rect x="385.16" y="333.97" width="3" height="1.00" fill="#2e2e2e" stroke="#9a9a9a" stroke-width="0.9"/>
<line x1="391.17" y1="329.92" x2="391.17" y2="336.53" stroke="#9a9a9a" stroke-width="1" />
<rect x="389.67" y="330.65" width="3" height="5.68" fill="#2e2e2e" stroke="#9a9a9a" stroke-width="0.9"/>
<line x1="395.69" y1="330.20" x2="395.69" y2="339.50" stroke="#9a9a9a" stroke-width="1" />
<rect x="393.79" y="331.18" width="3.80" height="3.07" fill="#1e88f0" />
<line x1="400.21" y1="325.53" x2="400.21" y2="346.77" stroke="#9a9a9a" stroke-width="1" />
<rect x="398.31" y="325.93" width="3.80" height="18.11" fill="#1e88f0" />
<line x1="404.72" y1="333.09" x2="404.72" y2="341.40" stroke="#9a9a9a" stroke-width="1" />
<rect x="403.22" y="334.82" width="3" height="5.82" fill="#2e2e2e" stroke="#9a9a9a" stroke-width="0.9"/>
<line x1="409.24" y1="332.02" x2="409.24" y2="340.78" stroke="#9a9a9a" stroke-width="1" />
<rect x="407.34" y="332.02" width="3.80" height="2.47" fill="#1e88f0" />
<line x1="413.75" y1="340.43" x2="413.75" y2="345.33" stroke="#9a9a9a" stroke-width="1" />
<rect x="411.85" y="341.32" width="3.80" height="2.94" fill="#1e88f0" />
<line x1="418.27" y1="345.95" x2="418.27" y2="355.47" stroke="#9a9a9a" stroke-width="1" />
<rect x="416.37" y="346.06" width="3.80" height="6.07" fill="#1e88f0" />
<line x1="422.79" y1="340.92" x2="422.79" y2="363.08" stroke="#9a9a9a" stroke-width="1" />
<rect x="421.29" y="341.62" width="3" height="8.58" fill="#2e2e2e" stroke="#9a9a9a" stroke-width="0.9"/>
<line x1="427.30" y1="335.47" x2="427.30" y2="352.42" stroke="#9a9a9a" stroke-width="1" />
<rect x="425.40" y="336.71" width="3.80" height="3.44" fill="#1e88f0" />
<line x1="431.82" y1="336.30" x2="431.82" y2="346.59" stroke="#9a9a9a" stroke-width="1" />
<rect x="430.32" y="338.16" width="3" height="3.28" fill="#2e2e2e" stroke="#9a9a9a" stroke-width="0.9"/>
<line x1="436.33" y1="322.46" x2="436.33" y2="336.59" stroke="#9a9a9a" stroke-width="1" />
<rect x="434.83" y="322.49" width="3" height="9.89" fill="#2e2e2e" stroke="#9a9a9a" stroke-width="0.9"/>
<line x1="440.85" y1="320.41" x2="440.85" y2="327.16" stroke="#9a9a9a" stroke-width="1" />
<rect x="438.95" y="321.55" width="3.80" height="1.21" fill="#1e88f0" />
<line x1="445.37" y1="317.23" x2="445.37" y2="328.17" stroke="#9a9a9a" stroke-width="1" />
<rect x="443.87" y="324.25" width="3" height="1.00" fill="#2e2e2e" stroke="#9a9a9a" stroke-width="0.9"/>
<line x1="449.88" y1="319.55" x2="449.88" y2="328.12" stroke="#9a9a9a" stroke-width="1" />
<rect x="448.38" y="320.80" width="3" height="4.89" fill="#2e2e2e" stroke="#9a9a9a" stroke-width="0.9"/>
<line x1="454.40" y1="317.01" x2="454.40" y2="328.17" stroke="#9a9a9a" stroke-width="1" />
<rect x="452.90" y="317.17" width="3" height="5.58" fill="#2e2e2e" stroke="#9a9a9a" stroke-width="0.9"/>
<line x1="458.91" y1="299.19" x2="458.91" y2="308.72" stroke="#9a9a9a" stroke-width="1" />
<rect x="457.41" y="305.74" width="3" height="2.97" fill="#2e2e2e" stroke="#9a9a9a" stroke-width="0.9"/>
<line x1="463.43" y1="300.52" x2="463.43" y2="310.37" stroke="#9a9a9a" stroke-width="1" />
<rect x="461.53" y="300.52" width="3.80" height="2.05" fill="#1e88f0" />
<line x1="467.95" y1="302.90" x2="467.95" y2="310.06" stroke="#9a9a9a" stroke-width="1" />
<rect x="466.45" y="303.10" width="3" height="1.88" fill="#2e2e2e" stroke="#9a9a9a" stroke-width="0.9"/>
<line x1="472.46" y1="288.88" x2="472.46" y2="305.90" stroke="#9a9a9a" stroke-width="1" />
<rect x="470.96" y="292.69" width="3" height="10.53" fill="#2e2e2e" stroke="#9a9a9a" stroke-width="0.9"/>
<line x1="476.98" y1="288.40" x2="476.98" y2="293.17" stroke="#9a9a9a" stroke-width="1" />
<rect x="475.48" y="289.24" width="3" height="2.72" fill="#2e2e2e" stroke="#9a9a9a" stroke-width="0.9"/>
<line x1="481.49" y1="284.62" x2="481.49" y2="297.11" stroke="#9a9a9a" stroke-width="1" />
<rect x="479.59" y="286.00" width="3.80" height="6.70" fill="#1e88f0" />
<line x1="486.01" y1="291.42" x2="486.01" y2="297.99" stroke="#9a9a9a" stroke-width="1" />
<rect x="484.11" y="294.31" width="3.80" height="1.20" fill="#1e88f0" />
<line x1="490.53" y1="288.34" x2="490.53" y2="299.10" stroke="#9a9a9a" stroke-width="1" />
<rect x="488.63" y="296.11" width="3.80" height="2.93" fill="#1e88f0" />
<line x1="495.04" y1="292.78" x2="495.04" y2="299.36" stroke="#9a9a9a" stroke-width="1" />
<rect x="493.54" y="293.67" width="3" height="2.14" fill="#2e2e2e" stroke="#9a9a9a" stroke-width="0.9"/>
<line x1="499.56" y1="290.21" x2="499.56" y2="298.03" stroke="#9a9a9a" stroke-width="1" />
<rect x="498.06" y="291.53" width="3" height="4.30" fill="#2e2e2e" stroke="#9a9a9a" stroke-width="0.9"/>
<line x1="504.07" y1="288.30" x2="504.07" y2="294.12" stroke="#9a9a9a" stroke-width="1" />
<rect x="502.57" y="290.28" width="3" height="2.32" fill="#2e2e2e" stroke="#9a9a9a" stroke-width="0.9"/>
<line x1="508.59" y1="280.09" x2="508.59" y2="298.22" stroke="#9a9a9a" stroke-width="1" />
<rect x="506.69" y="288.88" width="3.80" height="7.00" fill="#1e88f0" />
<line x1="513.11" y1="291.11" x2="513.11" y2="299.37" stroke="#9a9a9a" stroke-width="1" />
<rect x="511.61" y="292.23" width="3" height="1.00" fill="#2e2e2e" stroke="#9a9a9a" stroke-width="0.9"/>
<line x1="517.62" y1="283.58" x2="517.62" y2="296.39" stroke="#9a9a9a" stroke-width="1" />
<rect x="516.12" y="283.75" width="3" height="11.79" fill="#2e2e2e" stroke="#9a9a9a" stroke-width="0.9"/>
<line x1="522.14" y1="276.18" x2="522.14" y2="284.14" stroke="#9a9a9a" stroke-width="1" />
<rect x="520.64" y="276.74" width="3" height="7.40" fill="#2e2e2e" stroke="#9a9a9a" stroke-width="0.9"/>
<line x1="526.65" y1="268.42" x2="526.65" y2="278.09" stroke="#9a9a9a" stroke-width="1" />
<rect x="525.15" y="269.20" width="3" height="7.32" fill="#2e2e2e" stroke="#9a9a9a" stroke-width="0.9"/>
<line x1="531.17" y1="265.22" x2="531.17" y2="270.37" stroke="#9a9a9a" stroke-width="1" />
<rect x="529.67" y="267.79" width="3" height="1.00" fill="#2e2e2e" stroke="#9a9a9a" stroke-width="0.9"/>
<line x1="535.69" y1="263.31" x2="535.69" y2="267.36" stroke="#9a9a9a" stroke-width="1" />
<rect x="533.79" y="264.94" width="3.80" height="1.82" fill="#1e88f0" />
<line x1="540.20" y1="252.15" x2="540.20" y2="264.39" stroke="#9a9a9a" stroke-width="1" />
<rect x="538.70" y="252.52" width="3" height="10.66" fill="#2e2e2e" stroke="#9a9a9a" stroke-width="0.9"/>
<line x1="544.72" y1="250.39" x2="544.72" y2="266.87" stroke="#9a9a9a" stroke-width="1" />
<rect x="542.82" y="252.20" width="3.80" height="12.67" fill="#1e88f0" />
<line x1="549.23" y1="247.11" x2="549.23" y2="263.39" stroke="#9a9a9a" stroke-width="1" />
<rect x="547.73" y="257.16" width="3" height="6.15" fill="#2e2e2e" stroke="#9a9a9a" stroke-width="0.9"/>
<line x1="553.75" y1="244.27" x2="553.75" y2="257.31" stroke="#9a9a9a" stroke-width="1" />
<rect x="551.85" y="251.46" width="3.80" height="1.73" fill="#1e88f0" />
<line x1="558.27" y1="243.58" x2="558.27" y2="251.24" stroke="#9a9a9a" stroke-width="1" />
<rect x="556.77" y="244.20" width="3" height="5.78" fill="#2e2e2e" stroke="#9a9a9a" stroke-width="0.9"/>
<line x1="562.78" y1="255.38" x2="562.78" y2="264.80" stroke="#9a9a9a" stroke-width="1" />
<rect x="560.88" y="258.48" width="3.80" height="5.45" fill="#1e88f0" />
<line x1="567.30" y1="257.49" x2="567.30" y2="280.30" stroke="#9a9a9a" stroke-width="1" />
<rect x="565.40" y="258.86" width="3.80" height="15.99" fill="#1e88f0" />
<line x1="571.81" y1="271.62" x2="571.81" y2="286.74" stroke="#9a9a9a" stroke-width="1" />
<rect x="569.91" y="275.16" width="3.80" height="9.59" fill="#1e88f0" />
<line x1="576.33" y1="268.41" x2="576.33" y2="278.74" stroke="#9a9a9a" stroke-width="1" />
<rect x="574.83" y="269.90" width="3" height="6.65" fill="#2e2e2e" stroke="#9a9a9a" stroke-width="0.9"/>
<line x1="580.85" y1="264.66" x2="580.85" y2="273.28" stroke="#9a9a9a" stroke-width="1" />
<rect x="578.95" y="269.67" width="3.80" height="2.39" fill="#1e88f0" />
<line x1="585.36" y1="283.99" x2="585.36" y2="306.01" stroke="#9a9a9a" stroke-width="1" />
<rect x="583.46" y="284.54" width="3.80" height="19.68" fill="#1e88f0" />
<line x1="589.88" y1="288.10" x2="589.88" y2="313.26" stroke="#9a9a9a" stroke-width="1" />
<rect x="587.98" y="303.83" width="3.80" height="7.37" fill="#1e88f0" />
<line x1="594.39" y1="288.92" x2="594.39" y2="303.33" stroke="#9a9a9a" stroke-width="1" />
<rect x="592.89" y="296.22" width="3" height="6.36" fill="#2e2e2e" stroke="#9a9a9a" stroke-width="0.9"/>
<line x1="598.91" y1="289.07" x2="598.91" y2="299.89" stroke="#9a9a9a" stroke-width="1" />
<rect x="597.01" y="291.86" width="3.80" height="3.25" fill="#1e88f0" />
<line x1="603.43" y1="288.63" x2="603.43" y2="310.14" stroke="#9a9a9a" stroke-width="1" />
<rect x="601.53" y="291.32" width="3.80" height="10.57" fill="#1e88f0" />
<line x1="607.94" y1="273.12" x2="607.94" y2="287.56" stroke="#9a9a9a" stroke-width="1" />
<rect x="606.44" y="280.42" width="3" height="4.18" fill="#2e2e2e" stroke="#9a9a9a" stroke-width="0.9"/>
<line x1="612.46" y1="269.46" x2="612.46" y2="308.39" stroke="#9a9a9a" stroke-width="1" />
<rect x="610.56" y="276.54" width="3.80" height="22.79" fill="#1e88f0" />
<line x1="616.97" y1="315.03" x2="616.97" y2="335.49" stroke="#9a9a9a" stroke-width="1" />
<rect x="615.07" y="316.84" width="3.80" height="7.52" fill="#1e88f0" />
<line x1="621.49" y1="348.28" x2="621.49" y2="381.18" stroke="#9a9a9a" stroke-width="1" />
<rect x="619.99" y="364.42" width="3" height="8.80" fill="#2e2e2e" stroke="#9a9a9a" stroke-width="0.9"/>
<line x1="626.01" y1="332.91" x2="626.01" y2="362.61" stroke="#9a9a9a" stroke-width="1" />
<rect x="624.51" y="350.99" width="3" height="8.40" fill="#2e2e2e" stroke="#9a9a9a" stroke-width="0.9"/>
<line x1="630.52" y1="328.34" x2="630.52" y2="362.12" stroke="#9a9a9a" stroke-width="1" />
<rect x="628.62" y="337.72" width="3.80" height="23.41" fill="#1e88f0" />
<line x1="635.04" y1="329.44" x2="635.04" y2="347.86" stroke="#9a9a9a" stroke-width="1" />
<rect x="633.54" y="331.17" width="3" height="16.69" fill="#2e2e2e" stroke="#9a9a9a" stroke-width="0.9"/>
<line x1="639.55" y1="323.38" x2="639.55" y2="336.52" stroke="#9a9a9a" stroke-width="1" />
<rect x="638.05" y="324.96" width="3" height="7.87" fill="#2e2e2e" stroke="#9a9a9a" stroke-width="0.9"/>
<line x1="644.07" y1="318.20" x2="644.07" y2="329.91" stroke="#9a9a9a" stroke-width="1" />
<rect x="642.17" y="323.03" width="3.80" height="1.87" fill="#1e88f0" />
<line x1="648.59" y1="301.88" x2="648.59" y2="316.76" stroke="#9a9a9a" stroke-width="1" />
<rect x="647.09" y="302.39" width="3" height="14.36" fill="#2e2e2e" stroke="#9a9a9a" stroke-width="0.9"/>
<line x1="653.10" y1="295.19" x2="653.10" y2="307.03" stroke="#9a9a9a" stroke-width="1" />
<rect x="651.60" y="297.20" width="3" height="3.06" fill="#2e2e2e" stroke="#9a9a9a" stroke-width="0.9"/>
<line x1="657.62" y1="274.44" x2="657.62" y2="285.55" stroke="#9a9a9a" stroke-width="1" />
<rect x="656.12" y="275.19" width="3" height="10.36" fill="#2e2e2e" stroke="#9a9a9a" stroke-width="0.9"/>
<line x1="662.13" y1="270.51" x2="662.13" y2="279.54" stroke="#9a9a9a" stroke-width="1" />
<rect x="660.63" y="272.44" width="3" height="5.94" fill="#2e2e2e" stroke="#9a9a9a" stroke-width="0.9"/>
<line x1="666.65" y1="258.92" x2="666.65" y2="273.32" stroke="#9a9a9a" stroke-width="1" />
<rect x="665.15" y="258.94" width="3" height="12.76" fill="#2e2e2e" stroke="#9a9a9a" stroke-width="0.9"/>
<line x1="671.17" y1="255.87" x2="671.17" y2="264.62" stroke="#9a9a9a" stroke-width="1" />
<rect x="669.27" y="258.94" width="3.80" height="2.78" fill="#1e88f0" />
<line x1="675.68" y1="252.83" x2="675.68" y2="263.11" stroke="#9a9a9a" stroke-width="1" />
<rect x="674.18" y="255.79" width="3" height="4.44" fill="#2e2e2e" stroke="#9a9a9a" stroke-width="0.9"/>
<line x1="680.20" y1="250.19" x2="680.20" y2="270.76" stroke="#9a9a9a" stroke-width="1" />
<rect x="678.30" y="251.56" width="3.80" height="16.78" fill="#1e88f0" />
<line x1="684.71" y1="250.55" x2="684.71" y2="264.71" stroke="#9a9a9a" stroke-width="1" />
<rect x="683.21" y="252.35" width="3" height="7.93" fill="#2e2e2e" stroke="#9a9a9a" stroke-width="0.9"/>
<line x1="689.23" y1="248.10" x2="689.23" y2="260.41" stroke="#9a9a9a" stroke-width="1" />
<rect x="687.33" y="251.09" width="3.80" height="5.70" fill="#1e88f0" />
<line x1="693.75" y1="253.20" x2="693.75" y2="262.63" stroke="#9a9a9a" stroke-width="1" />
<rect x="692.25" y="254.55" width="3" height="5.73" fill="#2e2e2e" stroke="#9a9a9a" stroke-width="0.9"/>
<line x1="698.26" y1="254.24" x2="698.26" y2="270.76" stroke="#9a9a9a" stroke-width="1" />
<rect x="696.36" y="254.87" width="3.80" height="8.08" fill="#1e88f0" />
<line x1="702.78" y1="249.26" x2="702.78" y2="265.07" stroke="#9a9a9a" stroke-width="1" />
<rect x="700.88" y="259.17" width="3.80" height="3.84" fill="#1e88f0" />
<line x1="707.29" y1="248.16" x2="707.29" y2="265.55" stroke="#9a9a9a" stroke-width="1" />
<rect x="705.79" y="248.90" width="3" height="8.91" fill="#2e2e2e" stroke="#9a9a9a" stroke-width="0.9"/>
<line x1="711.81" y1="255.03" x2="711.81" y2="284.14" stroke="#9a9a9a" stroke-width="1" />
<rect x="709.91" y="255.03" width="3.80" height="23.74" fill="#1e88f0" />
<line x1="716.33" y1="272.75" x2="716.33" y2="285.09" stroke="#9a9a9a" stroke-width="1" />
<rect x="714.83" y="280.98" width="3" height="3.35" fill="#2e2e2e" stroke="#9a9a9a" stroke-width="0.9"/>
<line x1="720.84" y1="274.42" x2="720.84" y2="290.81" stroke="#9a9a9a" stroke-width="1" />
<rect x="718.94" y="280.98" width="3.80" height="4.17" fill="#1e88f0" />
<line x1="725.36" y1="280.38" x2="725.36" y2="310.35" stroke="#9a9a9a" stroke-width="1" />
<rect x="723.46" y="284.17" width="3.80" height="24.73" fill="#1e88f0" />
<line x1="729.87" y1="289.95" x2="729.87" y2="302.38" stroke="#9a9a9a" stroke-width="1" />
<rect x="728.37" y="293.24" width="3" height="7.25" fill="#2e2e2e" stroke="#9a9a9a" stroke-width="0.9"/>
<line x1="734.39" y1="286.52" x2="734.39" y2="300.57" stroke="#9a9a9a" stroke-width="1" />
<rect x="732.89" y="287.12" width="3" height="1.25" fill="#2e2e2e" stroke="#9a9a9a" stroke-width="0.9"/>
<line x1="738.91" y1="270.90" x2="738.91" y2="309.26" stroke="#9a9a9a" stroke-width="1" />
<rect x="737.41" y="272.47" width="3" height="14.43" fill="#2e2e2e" stroke="#9a9a9a" stroke-width="0.9"/>
<line x1="743.42" y1="260.82" x2="743.42" y2="277.12" stroke="#9a9a9a" stroke-width="1" />
<rect x="741.92" y="262.06" width="3" height="9.57" fill="#2e2e2e" stroke="#9a9a9a" stroke-width="0.9"/>
<line x1="747.94" y1="251.93" x2="747.94" y2="260.59" stroke="#9a9a9a" stroke-width="1" />
<rect x="746.44" y="254.49" width="3" height="5.67" fill="#2e2e2e" stroke="#9a9a9a" stroke-width="0.9"/>
<line x1="752.45" y1="251.99" x2="752.45" y2="259.87" stroke="#9a9a9a" stroke-width="1" />
<rect x="750.95" y="252.73" width="3" height="4.47" fill="#2e2e2e" stroke="#9a9a9a" stroke-width="0.9"/>
<line x1="756.97" y1="243.30" x2="756.97" y2="257.49" stroke="#9a9a9a" stroke-width="1" />
<rect x="755.07" y="247.12" width="3.80" height="5.23" fill="#1e88f0" />
<line x1="761.49" y1="238.56" x2="761.49" y2="257.23" stroke="#9a9a9a" stroke-width="1" />
<rect x="759.59" y="250.58" width="3.80" height="5.86" fill="#1e88f0" />
<line x1="766.00" y1="227.61" x2="766.00" y2="239.39" stroke="#9a9a9a" stroke-width="1" />
<rect x="764.50" y="232.59" width="3" height="2.75" fill="#2e2e2e" stroke="#9a9a9a" stroke-width="0.9"/>
<line x1="770.52" y1="232.21" x2="770.52" y2="242.38" stroke="#9a9a9a" stroke-width="1" />
<rect x="768.62" y="233.67" width="3.80" height="1.69" fill="#1e88f0" />
<line x1="775.03" y1="229.66" x2="775.03" y2="234.94" stroke="#9a9a9a" stroke-width="1" />
<rect x="773.53" y="231.36" width="3" height="1.67" fill="#2e2e2e" stroke="#9a9a9a" stroke-width="0.9"/>
<line x1="779.55" y1="227.17" x2="779.55" y2="236.25" stroke="#9a9a9a" stroke-width="1" />
<rect x="778.05" y="227.77" width="3" height="1.44" fill="#2e2e2e" stroke="#9a9a9a" stroke-width="0.9"/>
<line x1="784.07" y1="225.74" x2="784.07" y2="232.98" stroke="#9a9a9a" stroke-width="1" />
<rect x="782.17" y="227.59" width="3.80" height="2.85" fill="#1e88f0" />
<line x1="788.58" y1="219.16" x2="788.58" y2="230.75" stroke="#9a9a9a" stroke-width="1" />
<rect x="786.68" y="220.44" width="3.80" height="4.21" fill="#1e88f0" />
<line x1="793.10" y1="220.06" x2="793.10" y2="229.16" stroke="#9a9a9a" stroke-width="1" />
<rect x="791.20" y="222.16" width="3.80" height="4.30" fill="#1e88f0" />
<line x1="797.61" y1="219.71" x2="797.61" y2="235.12" stroke="#9a9a9a" stroke-width="1" />
<rect x="796.11" y="220.38" width="3" height="8.99" fill="#2e2e2e" stroke="#9a9a9a" stroke-width="0.9"/>
<line x1="802.13" y1="221.57" x2="802.13" y2="240.68" stroke="#9a9a9a" stroke-width="1" />
<rect x="800.23" y="221.57" width="3.80" height="12.24" fill="#1e88f0" />
<line x1="806.65" y1="231.21" x2="806.65" y2="242.50" stroke="#9a9a9a" stroke-width="1" />
<rect x="805.15" y="233.62" width="3" height="2.84" fill="#2e2e2e" stroke="#9a9a9a" stroke-width="0.9"/>
<line x1="811.16" y1="231.31" x2="811.16" y2="241.66" stroke="#9a9a9a" stroke-width="1" />
<rect x="809.66" y="236.02" width="3" height="1.00" fill="#2e2e2e" stroke="#9a9a9a" stroke-width="0.9"/>
<line x1="815.68" y1="222.71" x2="815.68" y2="235.29" stroke="#9a9a9a" stroke-width="1" />
<rect x="814.18" y="223.23" width="3" height="3.33" fill="#2e2e2e" stroke="#9a9a9a" stroke-width="0.9"/>
<line x1="820.19" y1="226.16" x2="820.19" y2="239.29" stroke="#9a9a9a" stroke-width="1" />
<rect x="818.29" y="226.55" width="3.80" height="10.47" fill="#1e88f0" />
<line x1="824.71" y1="221.60" x2="824.71" y2="232.36" stroke="#9a9a9a" stroke-width="1" />
<rect x="823.21" y="223.22" width="3" height="8.00" fill="#2e2e2e" stroke="#9a9a9a" stroke-width="0.9"/>
<line x1="829.23" y1="211.80" x2="829.23" y2="224.74" stroke="#9a9a9a" stroke-width="1" />
<rect x="827.73" y="212.99" width="3" height="10.06" fill="#2e2e2e" stroke="#9a9a9a" stroke-width="0.9"/>
<line x1="833.74" y1="212.24" x2="833.74" y2="219.81" stroke="#9a9a9a" stroke-width="1" />
<rect x="832.24" y="215.99" width="3" height="1.00" fill="#2e2e2e" stroke="#9a9a9a" stroke-width="0.9"/>
<line x1="838.26" y1="205.47" x2="838.26" y2="217.23" stroke="#9a9a9a" stroke-width="1" />
<rect x="836.76" y="207.24" width="3" height="9.98" fill="#2e2e2e" stroke="#9a9a9a" stroke-width="0.9"/>
<line x1="842.77" y1="193.15" x2="842.77" y2="203.55" stroke="#9a9a9a" stroke-width="1" />
<rect x="841.27" y="196.04" width="3" height="7.51" fill="#2e2e2e" stroke="#9a9a9a" stroke-width="0.9"/>
<line x1="847.29" y1="193.41" x2="847.29" y2="209.88" stroke="#9a9a9a" stroke-width="1" />
<rect x="845.39" y="194.32" width="3.80" height="12.87" fill="#1e88f0" />
<line x1="851.81" y1="199.37" x2="851.81" y2="208.91" stroke="#9a9a9a" stroke-width="1" />
<rect x="850.31" y="200.38" width="3" height="6.47" fill="#2e2e2e" stroke="#9a9a9a" stroke-width="0.9"/>
<line x1="856.32" y1="191.38" x2="856.32" y2="200.94" stroke="#9a9a9a" stroke-width="1" />
<rect x="854.42" y="192.10" width="3.80" height="8.54" fill="#1e88f0" />
<line x1="860.84" y1="192.96" x2="860.84" y2="199.47" stroke="#9a9a9a" stroke-width="1" />
<rect x="859.34" y="194.83" width="3" height="1.31" fill="#2e2e2e" stroke="#9a9a9a" stroke-width="0.9"/>
<line x1="865.35" y1="194.27" x2="865.35" y2="204.81" stroke="#9a9a9a" stroke-width="1" />
<rect x="863.45" y="196.55" width="3.80" height="1.20" fill="#1e88f0" />
<line x1="869.87" y1="195.24" x2="869.87" y2="205.71" stroke="#9a9a9a" stroke-width="1" />
<rect x="868.37" y="198.20" width="3" height="4.62" fill="#2e2e2e" stroke="#9a9a9a" stroke-width="0.9"/>
<line x1="874.39" y1="202.29" x2="874.39" y2="220.40" stroke="#9a9a9a" stroke-width="1" />
<rect x="872.49" y="202.38" width="3.80" height="9.27" fill="#1e88f0" />
<line x1="878.90" y1="206.55" x2="878.90" y2="214.77" stroke="#9a9a9a" stroke-width="1" />
<rect x="877.00" y="206.55" width="3.80" height="1.99" fill="#1e88f0" />
<line x1="883.42" y1="195.30" x2="883.42" y2="211.01" stroke="#9a9a9a" stroke-width="1" />
<rect x="881.52" y="204.31" width="3.80" height="4.66" fill="#1e88f0" />
<line x1="887.93" y1="200.27" x2="887.93" y2="205.23" stroke="#9a9a9a" stroke-width="1" />
<rect x="886.03" y="202.52" width="3.80" height="2.60" fill="#1e88f0" />
<line x1="892.45" y1="199.20" x2="892.45" y2="210.32" stroke="#9a9a9a" stroke-width="1" />
<rect x="890.95" y="202.77" width="3" height="3.31" fill="#2e2e2e" stroke="#9a9a9a" stroke-width="0.9"/>
<line x1="896.97" y1="198.27" x2="896.97" y2="208.18" stroke="#9a9a9a" stroke-width="1" />
<rect x="895.07" y="202.84" width="3.80" height="4.74" fill="#1e88f0" />
<line x1="901.48" y1="217.16" x2="901.48" y2="235.10" stroke="#9a9a9a" stroke-width="1" />
<rect x="899.58" y="217.16" width="3.80" height="17.47" fill="#1e88f0" />
<line x1="906.00" y1="217.95" x2="906.00" y2="230.19" stroke="#9a9a9a" stroke-width="1" />
<rect x="904.50" y="228.80" width="3" height="1.39" fill="#2e2e2e" stroke="#9a9a9a" stroke-width="0.9"/>
<line x1="910.51" y1="225.64" x2="910.51" y2="236.87" stroke="#9a9a9a" stroke-width="1" />
<rect x="908.61" y="229.71" width="3.80" height="3.12" fill="#1e88f0" />
<line x1="915.03" y1="215.14" x2="915.03" y2="230.47" stroke="#9a9a9a" stroke-width="1" />
<rect x="913.53" y="215.31" width="3" height="15.08" fill="#2e2e2e" stroke="#9a9a9a" stroke-width="0.9"/>
<line x1="919.55" y1="176.96" x2="919.55" y2="194.78" stroke="#9a9a9a" stroke-width="1" />
<rect x="918.05" y="178.74" width="3" height="16.04" fill="#2e2e2e" stroke="#9a9a9a" stroke-width="0.9"/>
<line x1="924.06" y1="165.04" x2="924.06" y2="174.20" stroke="#9a9a9a" stroke-width="1" />
<rect x="922.56" y="167.72" width="3" height="6.47" fill="#2e2e2e" stroke="#9a9a9a" stroke-width="0.9"/>
<line x1="928.58" y1="157.89" x2="928.58" y2="166.81" stroke="#9a9a9a" stroke-width="1" />
<rect x="927.08" y="162.12" width="3" height="4.69" fill="#2e2e2e" stroke="#9a9a9a" stroke-width="0.9"/>
<line x1="933.09" y1="156.67" x2="933.09" y2="164.33" stroke="#9a9a9a" stroke-width="1" />
<rect x="931.19" y="158.79" width="3.80" height="1.88" fill="#1e88f0" />
<line x1="937.61" y1="158.52" x2="937.61" y2="170.98" stroke="#9a9a9a" stroke-width="1" />
<rect x="935.71" y="160.10" width="3.80" height="4.90" fill="#1e88f0" />
<line x1="942.13" y1="158.95" x2="942.13" y2="169.52" stroke="#9a9a9a" stroke-width="1" />
<rect x="940.23" y="164.56" width="3.80" height="1.20" fill="#1e88f0" />
<line x1="946.64" y1="162.53" x2="946.64" y2="175.43" stroke="#9a9a9a" stroke-width="1" />
<rect x="944.74" y="163.61" width="3.80" height="10.10" fill="#1e88f0" />
<line x1="951.16" y1="182.18" x2="951.16" y2="197.75" stroke="#9a9a9a" stroke-width="1" />
<rect x="949.26" y="182.80" width="3.80" height="10.54" fill="#1e88f0" />
<line x1="955.67" y1="183.97" x2="955.67" y2="194.51" stroke="#9a9a9a" stroke-width="1" />
<rect x="954.17" y="187.60" width="3" height="4.86" fill="#2e2e2e" stroke="#9a9a9a" stroke-width="0.9"/>
<line x1="960.19" y1="178.16" x2="960.19" y2="197.11" stroke="#9a9a9a" stroke-width="1" />
<rect x="958.69" y="181.76" width="3" height="13.16" fill="#2e2e2e" stroke="#9a9a9a" stroke-width="0.9"/>
<line x1="964.71" y1="180.83" x2="964.71" y2="195.86" stroke="#9a9a9a" stroke-width="1" />
<rect x="962.81" y="181.67" width="3.80" height="1.20" fill="#1e88f0" />
<line x1="969.22" y1="170.20" x2="969.22" y2="190.94" stroke="#9a9a9a" stroke-width="1" />
<rect x="967.72" y="173.82" width="3" height="5.02" fill="#2e2e2e" stroke="#9a9a9a" stroke-width="0.9"/>
<line x1="973.74" y1="167.78" x2="973.74" y2="174.91" stroke="#9a9a9a" stroke-width="1" />
<rect x="972.24" y="168.66" width="3" height="6.25" fill="#2e2e2e" stroke="#9a9a9a" stroke-width="0.9"/>
<line x1="978.25" y1="155.81" x2="978.25" y2="170.02" stroke="#9a9a9a" stroke-width="1" />
<rect x="976.35" y="162.93" width="3.80" height="1.23" fill="#1e88f0" />
<line x1="982.77" y1="154.64" x2="982.77" y2="162.93" stroke="#9a9a9a" stroke-width="1" />
<rect x="981.27" y="155.59" width="3" height="5.40" fill="#2e2e2e" stroke="#9a9a9a" stroke-width="0.9"/>
<line x1="987.29" y1="155.96" x2="987.29" y2="164.78" stroke="#9a9a9a" stroke-width="1" />
<rect x="985.39" y="157.47" width="3.80" height="3.84" fill="#1e88f0" />
<line x1="991.80" y1="149.96" x2="991.80" y2="160.01" stroke="#9a9a9a" stroke-width="1" />
<rect x="990.30" y="152.90" width="3" height="7.10" fill="#2e2e2e" stroke="#9a9a9a" stroke-width="0.9"/>
<line x1="996.32" y1="147.61" x2="996.32" y2="152.17" stroke="#9a9a9a" stroke-width="1" />
<rect x="994.82" y="149.21" width="3" height="1.76" fill="#2e2e2e" stroke="#9a9a9a" stroke-width="0.9"/>
<line x1="1000.83" y1="147.76" x2="1000.83" y2="152.65" stroke="#9a9a9a" stroke-width="1" />
<rect x="999.33" y="148.53" width="3" height="1.73" fill="#2e2e2e" stroke="#9a9a9a" stroke-width="0.9"/>
<line x1="1005.35" y1="138.54" x2="1005.35" y2="145.73" stroke="#9a9a9a" stroke-width="1" />
<rect x="1003.85" y="139.38" width="3" height="4.27" fill="#2e2e2e" stroke="#9a9a9a" stroke-width="0.9"/>
<line x1="1009.87" y1="136.01" x2="1009.87" y2="141.01" stroke="#9a9a9a" stroke-width="1" />
<rect x="1007.97" y="138.74" width="3.80" height="3.48" fill="#1e88f0" />
<line x1="1014.38" y1="136.01" x2="1014.38" y2="141.01" stroke="#9a9a9a" stroke-width="1" />
<rect x="1012.88" y="138.43" width="3" height="2.22" fill="#2e2e2e" stroke="#9a9a9a" stroke-width="0.9"/>
<line x1="1018.90" y1="138.87" x2="1018.90" y2="148.84" stroke="#9a9a9a" stroke-width="1" />
<rect x="1017.00" y="140.25" width="3.80" height="7.54" fill="#1e88f0" />
<line x1="1023.41" y1="144.65" x2="1023.41" y2="153.53" stroke="#9a9a9a" stroke-width="1" />
<rect x="1021.51" y="146.60" width="3.80" height="5.67" fill="#1e88f0" />
<line x1="1027.93" y1="137.85" x2="1027.93" y2="145.96" stroke="#9a9a9a" stroke-width="1" />
<rect x="1026.43" y="139.95" width="3" height="6.01" fill="#2e2e2e" stroke="#9a9a9a" stroke-width="0.9"/>
<line x1="1032.45" y1="141.08" x2="1032.45" y2="148.19" stroke="#9a9a9a" stroke-width="1" />
<rect x="1030.55" y="142.43" width="3.80" height="5.76" fill="#1e88f0" />
<line x1="1036.96" y1="141.36" x2="1036.96" y2="152.06" stroke="#9a9a9a" stroke-width="1" />
<rect x="1035.06" y="143.96" width="3.80" height="4.27" fill="#1e88f0" />
<line x1="1041.48" y1="139.70" x2="1041.48" y2="146.21" stroke="#9a9a9a" stroke-width="1" />
<rect x="1039.98" y="142.48" width="3" height="2.57" fill="#2e2e2e" stroke="#9a9a9a" stroke-width="0.9"/>
<line x1="1045.99" y1="146.58" x2="1045.99" y2="152.20" stroke="#9a9a9a" stroke-width="1" />
<rect x="1044.09" y="147.86" width="3.80" height="1.20" fill="#1e88f0" />
<line x1="1050.51" y1="143.33" x2="1050.51" y2="194.05" stroke="#9a9a9a" stroke-width="1" />
<rect x="1048.61" y="149.09" width="3.80" height="43.87" fill="#1e88f0" />
<line x1="1055.03" y1="177.12" x2="1055.03" y2="194.48" stroke="#9a9a9a" stroke-width="1" />
<rect x="1053.13" y="182.82" width="3.80" height="11.41" fill="#1e88f0" />
<line x1="1059.54" y1="165.48" x2="1059.54" y2="202.92" stroke="#9a9a9a" stroke-width="1" />
<rect x="1058.04" y="178.29" width="3" height="22.21" fill="#2e2e2e" stroke="#9a9a9a" stroke-width="0.9"/>
<line x1="1064.06" y1="166.44" x2="1064.06" y2="185.36" stroke="#9a9a9a" stroke-width="1" />
<rect x="1062.56" y="167.48" width="3" height="8.45" fill="#2e2e2e" stroke="#9a9a9a" stroke-width="0.9"/>
<line x1="1068.57" y1="150.97" x2="1068.57" y2="165.03" stroke="#9a9a9a" stroke-width="1" />
<rect x="1067.07" y="150.99" width="3" height="13.85" fill="#2e2e2e" stroke="#9a9a9a" stroke-width="0.9"/>
<line x1="1073.09" y1="148.56" x2="1073.09" y2="159.16" stroke="#9a9a9a" stroke-width="1" />
<rect x="1071.59" y="151.60" width="3" height="3.15" fill="#2e2e2e" stroke="#9a9a9a" stroke-width="0.9"/>
<line x1="1077.61" y1="159.46" x2="1077.61" y2="177.76" stroke="#9a9a9a" stroke-width="1" />
<rect x="1075.71" y="159.46" width="3.80" height="8.83" fill="#1e88f0" />
</g>
<g id="legend">
<rect x="0.00" y="95.80" width="92.40" height="62.80" fill="#141414" />
<text x="0.00" y="106.80" font-family='"Liberation Sans", sans-serif' font-size="7.2" font-weight="normal" fill="#e0e0e0" textLength="9.30" lengthAdjust="spacingAndGlyphs" >ce</text>
<text x="2.60" y="114.80" font-family='"Liberation Sans", sans-serif' font-size="7.2" font-weight="normal" fill="#e0e0e0" textLength="33.70" lengthAdjust="spacingAndGlyphs" >12/06/24</text>
<text x="-0.80" y="130.80" font-family='"Liberation Sans", sans-serif' font-size="7.2" font-weight="normal" fill="#e0e0e0" textLength="35.00" lengthAdjust="spacingAndGlyphs" >01/05/24</text>
<text x="-1.50" y="138.80" font-family='"Liberation Sans", sans-serif' font-size="7.2" font-weight="normal" fill="#e0e0e0" textLength="15.50" lengthAdjust="spacingAndGlyphs" >(50)</text>
<text x="20.70" y="138.80" font-family='"Liberation Sans", sans-serif' font-size="7.2" font-weight="normal" fill="#e0e0e0" textLength="31.20" lengthAdjust="spacingAndGlyphs" >on Close</text>
<text x="-1.00" y="146.80" font-family='"Liberation Sans", sans-serif' font-size="7.2" font-weight="normal" fill="#e0e0e0" textLength="20.20" lengthAdjust="spacingAndGlyphs" >(100)</text>
<text x="24.90" y="146.80" font-family='"Liberation Sans", sans-serif' font-size="7.2" font-weight="normal" fill="#e0e0e0" textLength="32.10" lengthAdjust="spacingAndGlyphs" >on Close</text>
<text x="-1.00" y="154.80" font-family='"Liberation Sans", sans-serif' font-size="7.2" font-weight="normal" fill="#e0e0e0" textLength="20.20" lengthAdjust="spacingAndGlyphs" >(200)</text>
<text x="24.90" y="154.80" font-family='"Liberation Sans", sans-serif' font-size="7.2" font-weight="normal" fill="#e0e0e0" textLength="32.10" lengthAdjust="spacingAndGlyphs" >on Close</text>
<text x="60.70" y="106.80" font-family='"Liberation Sans", sans-serif' font-size="7.2" font-weight="normal" fill="#e0e0e0" textLength="28.50" lengthAdjust="spacingAndGlyphs" >5970.84</text>
<text x="60.70" y="114.80" font-family='"Liberation Sans", sans-serif' font-size="7.2" font-weight="normal" fill="#e0e0e0" textLength="28.50" lengthAdjust="spacingAndGlyphs" >6099.97</text>
<text x="60.70" y="122.80" font-family='"Liberation Sans", sans-serif' font-size="7.2" font-weight="normal" fill="#e0e0e0" textLength="28.50" lengthAdjust="spacingAndGlyphs" >5421.90</text>
<text x="60.70" y="130.80" font-family='"Liberation Sans", sans-serif' font-size="7.2" font-weight="normal" fill="#e0e0e0" textLength="28.50" lengthAdjust="spacingAndGlyphs" >4682.11</text>
<text x="60.70" y="138.80" font-family='"Liberation Sans", sans-serif' font-size="7.2" font-weight="normal" fill="#e0e0e0" textLength="28.50" lengthAdjust="spacingAndGlyphs" >5940.82</text>
<text x="60.70" y="146.80" font-family='"Liberation Sans", sans-serif' font-size="7.2" font-weight="normal" fill="#e0e0e0" textLength="28.50" lengthAdjust="spacingAndGlyphs" >5779.89</text>
<text x="60.70" y="154.80" font-family='"Liberation Sans", sans-serif' font-size="7.2" font-weight="normal" fill="#e0e0e0" textLength="28.50" lengthAdjust="spacingAndGlyphs" >5544.01</text>
</g>
<g id="header">
<text x="2.20" y="27.00" font-family='"Liberation Mono", monospace' font-size="13.5" font-weight="bold" fill="#e8304a" textLength="57.60" lengthAdjust="spacingAndGlyphs" >5970.8</text>
<text x="68.60" y="27.00" font-family='"Liberation Mono", monospace' font-size="13.5" font-weight="normal" fill="#d42a42" textLength="45.90" lengthAdjust="spacingAndGlyphs" >-66.75</text>
<polyline points="135.2,19.8 137,19.2 139,18.6 141,18.0 143,17.3 145,17.6 147,18.2 149,18.0 151,17.9 153,18.3 155,18.1 157,17.5 158.5,16.8 160.5,17.6" fill="none" stroke="#f2f2f2" stroke-width="1.9" stroke-linejoin="round"/>
<polyline points="165,22 167,23.5 169,24.8 171,25.6 173,26.6 175,28.0 177,28.6 179,28.0 181,27.6 183,27.4 185,26.7 187,26.2 189,26.0 191,25.6" fill="none" stroke="#c0202e" stroke-width="2.6" stroke-linejoin="round"/>
<text x="196.70" y="27.40" font-family='"Liberation Mono", monospace' font-size="13.5" font-weight="bold" fill="#f0f0f0" textLength="55.80" lengthAdjust="spacingAndGlyphs" >5932.61</text>
<text x="260.50" y="27.40" font-family='"Liberation Mono", monospace' font-size="9" font-weight="normal" fill="#9a9a9a" >/</text>
<text x="272.50" y="27.40" font-family='"Liberation Mono", monospace' font-size="13.5" font-weight="bold" fill="#f0f0f0" textLength="55.80" lengthAdjust="spacingAndGlyphs" >6016.46</text>
<text x="2.20" y="44.20" font-family='"Liberation Mono", monospace' font-size="13.3" font-weight="normal" fill="#c8c8c8" textLength="47.20" lengthAdjust="spacingAndGlyphs" >27-Dec</text>
<text x="71.00" y="44.20" font-family='"Liberation Mono", monospace' font-size="13.3" font-weight="bold" fill="#e2b070" textLength="5.70" lengthAdjust="spacingAndGlyphs" >O</text>
<text x="82.80" y="44.20" font-family='"Liberation Mono", monospace' font-size="13.3" font-weight="bold" fill="#f0f0f0" textLength="47.20" lengthAdjust="spacingAndGlyphs" >6006.1</text>
<text x="140.30" y="44.20" font-family='"Liberation Mono", monospace' font-size="13.3" font-weight="bold" fill="#e0a24a" textLength="6.40" lengthAdjust="spacingAndGlyphs" >⊦</text>
<text x="152.20" y="44.20" font-family='"Liberation Mono", monospace' font-size="13.3" font-weight="bold" fill="#f0f0f0" textLength="46.80" lengthAdjust="spacingAndGlyphs" >6006.1</text>
<text x="210.00" y="44.20" font-family='"Liberation Mono", monospace' font-size="13.3" font-weight="bold" fill="#e0a24a" textLength="5.50" lengthAdjust="spacingAndGlyphs" >L</text>
<text x="222.50" y="44.20" font-family='"Liberation Mono", monospace' font-size="13.3" font-weight="bold" fill="#f0f0f0" textLength="45.80" lengthAdjust="spacingAndGlyphs" >5932.9</text>
<text x="277.50" y="44.20" font-family='"Liberation Mono", monospace' font-size="13.3" font-weight="bold" fill="#e0a24a" textLength="23.30" lengthAdjust="spacingAndGlyphs" >Pre</text>
<text x="312.50" y="44.20" font-family='"Liberation Mono", monospace' font-size="13.3" font-weight="bold" fill="#f0f0f0" textLength="47.50" lengthAdjust="spacingAndGlyphs" >6037.5</text>
<rect x="0.00" y="46.90" width="61.00" height="16.40" fill="#f8a526" />
<text x="-1.80" y="58.80" font-family='"Liberation Sans", sans-serif' font-size="11.5" font-weight="bold" fill="#5a3000" >X</text>
<rect x="61.00" y="46.90" width="1019.00" height="16.40" fill="#8e1222" />
<rect x="186.10" y="46.90" width="1.20" height="16.40" fill="#6e0e1a" />
<rect x="258.40" y="46.90" width="1.20" height="16.40" fill="#6e0e1a" />
<rect x="314.40" y="46.90" width="1.20" height="16.40" fill="#6e0e1a" />
<g fill="#e8c8cc"><rect x="67.6" y="51" width="1.6" height="7"/><rect x="70.6" y="52" width="1.6" height="5"/><rect x="73.6" y="50.5" width="1.6" height="8"/><rect x="67.6" y="54" width="7.6" height="1"/></g>
<text x="81.70" y="58.50" font-family='"Liberation Sans", sans-serif' font-size="12.2" font-weight="bold" fill="#f4dde0" textLength="91.60" lengthAdjust="spacingAndGlyphs" >Suggested Charts</text>
<text x="178.50" y="58.00" font-family='"Liberation Sans", sans-serif' font-size="8" font-weight="normal" fill="#e0c0c4" >▾</text>
<g fill="#e0b8be"><circle cx="195.5" cy="53.5" r="2.2"/><circle cx="200.5" cy="53.5" r="2.2"/><circle cx="195.5" cy="57.5" r="1.6"/><circle cx="200.5" cy="57.5" r="1.6"/></g>
<text x="206.70" y="58.50" font-family='"Liberation Sans", sans-serif' font-size="12.2" font-weight="bold" fill="#f4dde0" textLength="38.30" lengthAdjust="spacingAndGlyphs" >Actions</text>
<text x="251.50" y="58.00" font-family='"Liberation Sans", sans-serif' font-size="8" font-weight="normal" fill="#e0c0c4" >▾</text>
<g fill="#e0b8be"><circle cx="267.5" cy="53.5" r="2.2"/><circle cx="272" cy="53.5" r="2.2"/><rect x="266.5" y="56" width="1.5" height="4"/><rect x="271" y="56" width="1.5" height="4"/></g>
<text x="279.00" y="58.50" font-family='"Liberation Sans", sans-serif' font-size="12.2" font-weight="bold" fill="#f4dde0" textLength="18.50" lengthAdjust="spacingAndGlyphs" >Edit</text>
<text x="304.00" y="58.00" font-family='"Liberation Sans", sans-serif' font-size="8" font-weight="normal" fill="#e0c0c4" >▾</text>
<text x="1055.50" y="59.00" font-family='"Liberation Sans", sans-serif' font-size="12" font-weight="bold" fill="#f4dde0" textLength="26.00" lengthAdjust="spacingAndGlyphs" >Cand</text>
<rect x="0.00" y="67.40" width="6.00" height="12.00" fill="#f8a526" stroke="#c47a10" stroke-width="0.8"/>
<text x="-0.80" y="77.00" font-family='"Liberation Sans", sans-serif' font-size="10.3" font-weight="bold" fill="#3c2200" >3</text>
<rect x="9.60" y="67.40" width="6.00" height="12.00" fill="#4a4a4a" />
<rect x="10.60" y="71.50" width="4.00" height="1.00" fill="#aaa" />
<rect x="10.60" y="74.50" width="4.00" height="1.00" fill="#aaa" />
<rect x="83.70" y="67.40" width="6.70" height="12.00" fill="#4a4a4a" />
<rect x="84.70" y="71.50" width="4.70" height="1.00" fill="#aaa" />
<rect x="84.70" y="74.50" width="4.70" height="1.00" fill="#aaa" />
<text x="19.50" y="76.80" font-family='"Liberation Sans", sans-serif' font-size="10" font-weight="normal" fill="#ddd" >-</text>
<rect x="24.40" y="67.40" width="57.80" height="12.00" fill="#f8a526" stroke="#c47a10" stroke-width="0.8"/>
<text x="28.10" y="77.00" font-family='"Liberation Sans", sans-serif' font-size="10.3" font-weight="bold" fill="#3c2200" textLength="52.60" lengthAdjust="spacingAndGlyphs" >12/30/2024</text>
<rect x="96.30" y="67.40" width="63.70" height="12.00" fill="#f8a526" stroke="#c47a10" stroke-width="0.8"/>
<text x="98.80" y="77.00" font-family='"Liberation Sans", sans-serif' font-size="10.3" font-weight="bold" fill="#3c2200" textLength="32.00" lengthAdjust="spacingAndGlyphs" >Last Px</text>
<rect x="164.40" y="67.40" width="53.40" height="12.00" fill="#f8a526" stroke="#c47a10" stroke-width="0.8"/>
<text x="166.80" y="77.00" font-family='"Liberation Sans", sans-serif' font-size="10.3" font-weight="bold" fill="#3c2200" textLength="44.00" lengthAdjust="spacingAndGlyphs" >Local CCY</text>
<rect x="218.50" y="67.40" width="8.20" height="12.00" fill="#555" />
<text x="220.00" y="76.50" font-family='"Liberation Sans", sans-serif' font-size="7" font-weight="normal" fill="#ccc" >▾</text>
<rect x="232.00" y="69.00" width="8.00" height="8.60" fill="#1d62c8" />
<polyline points="234,73 235.8,75 238.5,70.8" fill="none" stroke="#cfe3ff" stroke-width="1.1"/>
<text x="244.40" y="77.20" font-family='"Liberation Sans", sans-serif' font-size="10.5" font-weight="bold" fill="#da8e30" textLength="41.60" lengthAdjust="spacingAndGlyphs" >Mov Avgs</text>
<path d="M288.5,78 L289.5,75.5 L295.5,69.5 L297,71 L291,77 Z" fill="#d8d8d8"/>
<rect x="304.40" y="69.20" width="7.60" height="8.40" fill="#5a5a5a" />
<text x="316.30" y="77.20" font-family='"Liberation Sans", sans-serif' font-size="10.5" font-weight="bold" fill="#da8e30" textLength="49.70" lengthAdjust="spacingAndGlyphs" >Key Events</text>
<rect x="0.00" y="80.90" width="876.00" height="12.60" fill="#191919" />
<rect x="16.40" y="80.90" width="1.00" height="12.60" fill="#101010" />
<rect x="36.00" y="80.90" width="1.00" height="12.60" fill="#101010" />
<rect x="87.50" y="80.90" width="1.00" height="12.60" fill="#101010" />
<rect x="109.50" y="80.90" width="1.00" height="12.60" fill="#101010" />
<rect x="137.00" y="80.90" width="1.00" height="12.60" fill="#101010" />
<rect x="177.50" y="80.90" width="1.00" height="12.60" fill="#101010" />
<rect x="193.00" y="80.90" width="1.00" height="12.60" fill="#101010" />
<rect x="214.00" y="80.90" width="1.00" height="12.60" fill="#101010" />
<rect x="232.50" y="80.90" width="1.00" height="12.60" fill="#101010" />
<rect x="39.30" y="80.90" width="47.40" height="12.60" fill="#145ac8" />
<rect x="64.80" y="80.90" width="0.80" height="12.60" fill="#1250b0" />
<rect x="195.50" y="80.90" width="16.50" height="12.60" fill="#145ac8" />
<text x="-0.50" y="89.90" font-family='"Liberation Sans", sans-serif' font-size="9.2" font-weight="bold" fill="#f2f2f2" textLength="10.00" lengthAdjust="spacingAndGlyphs" >1M</text>
<text x="21.40" y="89.90" font-family='"Liberation Sans", sans-serif' font-size="9.2" font-weight="bold" fill="#f2f2f2" textLength="10.40" lengthAdjust="spacingAndGlyphs" >6M</text>
<text x="44.70" y="89.90" font-family='"Liberation Sans", sans-serif' font-size="9.2" font-weight="bold" fill="#d6e8ff" textLength="15.00" lengthAdjust="spacingAndGlyphs" >YTD</text>
<text x="72.00" y="89.90" font-family='"Liberation Sans", sans-serif' font-size="9.2" font-weight="bold" fill="#d6e8ff" textLength="9.00" lengthAdjust="spacingAndGlyphs" >1Y</text>
<text x="93.40" y="89.90" font-family='"Liberation Sans", sans-serif' font-size="9.2" font-weight="bold" fill="#f2f2f2" textLength="9.10" lengthAdjust="spacingAndGlyphs" >5Y</text>
<text x="114.80" y="89.90" font-family='"Liberation Sans", sans-serif' font-size="9.2" font-weight="bold" fill="#f2f2f2" textLength="14.90" lengthAdjust="spacingAndGlyphs" >Max</text>
<text x="141.50" y="89.90" font-family='"Liberation Sans", sans-serif' font-size="9.2" font-weight="bold" fill="#f2f2f2" textLength="20.00" lengthAdjust="spacingAndGlyphs" >Daily</text>
<polygon points="163,84.5 171,84.5 167,91" fill="#e8e8e8"/>
<polyline points="183,91 185.5,87.5 187.5,89 190.5,85" fill="none" stroke="#888" stroke-width="1.1"/><rect x="183" y="91" width="8" height="0.8" fill="#888"/>
<g fill="#cfe3ff"><rect x="201" y="84" width="1.2" height="7"/><rect x="205" y="84" width="1.2" height="7"/><rect x="200.3" y="85.5" width="2.6" height="3.5"/><rect x="204.3" y="86.5" width="2.6" height="3"/></g>
<text x="221.50" y="90.00" font-family='"Liberation Sans", sans-serif' font-size="7" font-weight="normal" fill="#ccc" >▾</text>
<rect x="236.00" y="81.20" width="39.00" height="12.00" fill="#222222" />
<text x="243.70" y="89.90" font-family='"Liberation Sans", sans-serif' font-size="9.2" font-weight="bold" fill="#f2f2f2" textLength="22.30" lengthAdjust="spacingAndGlyphs" >Table</text>
<rect x="876.00" y="80.90" width="204.00" height="12.60" fill="#0b0b0b" />
<text x="879.80" y="90.20" font-family='"Liberation Sans", sans-serif' font-size="9.5" font-weight="bold" fill="#bbb" >+</text>
<text x="890.00" y="89.90" font-family='"Liberation Sans", sans-serif' font-size="9.2" font-weight="bold" fill="#e6e8f6" textLength="29.40" lengthAdjust="spacingAndGlyphs" >Related</text>
<text x="923.30" y="89.90" font-family='"Liberation Sans", sans-serif' font-size="9.2" font-weight="bold" fill="#cfe4ea" textLength="17.70" lengthAdjust="spacingAndGlyphs" >Data</text>
<text x="945.20" y="90.00" font-family='"Liberation Sans", sans-serif' font-size="7" font-weight="normal" fill="#bbb" >▾</text>
<rect x="959.80" y="80.70" width="82.10" height="12.40" fill="#f8a526" />
<text x="962.00" y="90.40" font-family='"Liberation Sans", sans-serif' font-size="10" font-weight="normal" fill="#a86000" textLength="37.00" lengthAdjust="spacingAndGlyphs" >Add Data</text>
<text x="1045.50" y="91.00" font-family='"Liberation Sans", sans-serif' font-size="13" font-weight="bold" fill="#b0b0b0" >«</text>
<path d="M1060.5,92 L1061.5,89.5 L1067.5,83.5 L1069,85 L1063,91 Z" fill="#d8d8d8"/>
<text x="1073.00" y="89.90" font-family='"Liberation Sans", sans-serif' font-size="9.2" font-weight="bold" fill="#f2f2f2" textLength="9.00" lengthAdjust="spacingAndGlyphs" >Ec</text>
</g>
<g id="footer">
<text x="68.90" y="642.80" font-family='"Liberation Mono", monospace' font-size="13.3" font-weight="bold" fill="#f0f0f0" textLength="939.48" lengthAdjust="spacingAndGlyphs" >Australia 61 2 9777 8600 Brazil 5511 2395 9000 Europe 44 20 7330 7500 Germany 49 69 9204 1210 Hong Kong 852 2977 6000</text>
<text x="68.90" y="655.60" font-family='"Liberation Mono", monospace' font-size="13.3" font-weight="bold" fill="#f0f0f0" textLength="159.60" lengthAdjust="spacingAndGlyphs" >Japan 81 3 4565 8900</text>
<text x="277.94" y="655.60" font-family='"Liberation Mono", monospace' font-size="13.3" font-weight="bold" fill="#f0f0f0" textLength="175.68" lengthAdjust="spacingAndGlyphs" >Singapore 65 6212 1000</text>
<text x="503.06" y="655.60" font-family='"Liberation Mono", monospace' font-size="13.3" font-weight="bold" fill="#f0f0f0" textLength="151.56" lengthAdjust="spacingAndGlyphs" >U.S. 1 212 318 2000</text>
<text x="712.10" y="655.60" font-family='"Liberation Mono", monospace' font-size="13.3" font-weight="bold" fill="#f0f0f0" textLength="296.28" lengthAdjust="spacingAndGlyphs" >Copyright 2024 Bloomberg Finance L.P.</text>
<text x="671.90" y="668.40" font-family='"Liberation Mono", monospace' font-size="13.3" font-weight="bold" fill="#f0f0f0" textLength="449.04" lengthAdjust="spacingAndGlyphs" >SN 3379190 EST  GMT-5:00 ba1973-174 28-Dec-2024 09:04:11</text>
</g>
</g>
</svg>
</body></html>
